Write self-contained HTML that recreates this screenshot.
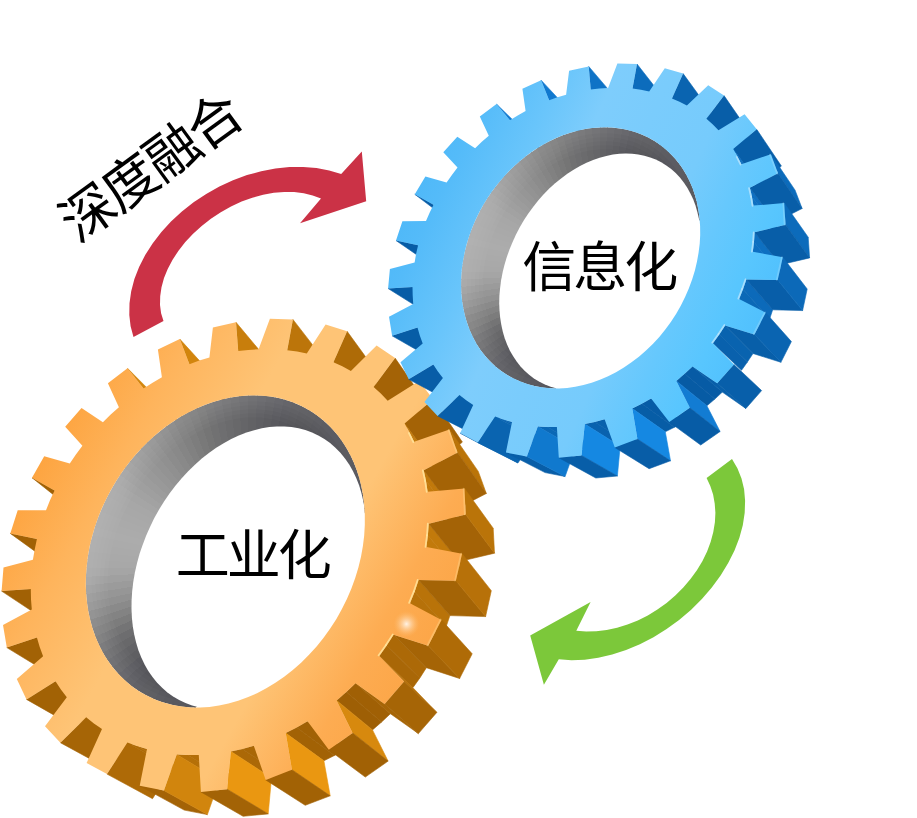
<!DOCTYPE html>
<html lang="zh"><head><meta charset="utf-8"><title>深度融合</title>
<style>html,body{margin:0;padding:0;background:#fff}body{width:917px;height:818px;overflow:hidden}svg{display:block}</style></head>
<body>
<svg width="917" height="818" viewBox="0 0 917 818">
<defs>
<linearGradient id="blueface" gradientUnits="userSpaceOnUse" x1="399.1" y1="185.3" x2="752.8" y2="349.5"><stop offset="0.000" stop-color="#4cb7f8"/><stop offset="0.103" stop-color="#54bbf9"/><stop offset="0.256" stop-color="#69c5fb"/><stop offset="0.385" stop-color="#7ecdfc"/><stop offset="0.513" stop-color="#7accfc"/><stop offset="0.667" stop-color="#76cbfc"/><stop offset="0.782" stop-color="#66c8fd"/><stop offset="0.897" stop-color="#58c6fe"/><stop offset="1.000" stop-color="#50c0fd"/></linearGradient>
<linearGradient id="orangeface" gradientUnits="userSpaceOnUse" x1="217.8" y1="122.7" x2="609.8" y2="343.6"><stop offset="0.000" stop-color="#fda23c"/><stop offset="0.178" stop-color="#feb45c"/><stop offset="0.378" stop-color="#fec476"/><stop offset="0.689" stop-color="#fec476"/><stop offset="0.867" stop-color="#fdac52"/><stop offset="1.000" stop-color="#fca546"/></linearGradient>
<radialGradient id="spec" cx="0.5" cy="0.5" r="0.5"><stop offset="0" stop-color="#fff" stop-opacity="0.85"/><stop offset="0.4" stop-color="#ffe9cf" stop-opacity="0.5"/><stop offset="1" stop-color="#ffc27c" stop-opacity="0"/></radialGradient>
</defs>
<rect width="917" height="818" fill="#fff"/>
<path d="M133.5 337.0 L130.6 326.2 L129.3 314.9 L129.5 303.2 L131.2 291.2 L134.4 279.1 L139.1 267.0 L145.2 255.1 L152.6 243.4 L161.2 232.2 L171.0 221.5 L181.9 211.5 L193.6 202.3 L206.2 193.9 L219.4 186.6 L233.0 180.3 L247.0 175.1 L261.2 171.2 L275.4 168.5 L289.5 167.0 L303.3 166.9 L316.5 168.0 L329.2 170.4 L341.2 174.0 L361.8 151.4 L366.2 201.3 L300.0 223.2 L321.0 198.5 L312.7 195.4 L303.8 193.2 L294.2 192.0 L284.2 191.9 L273.8 192.8 L263.1 194.8 L252.3 197.7 L241.6 201.6 L231.0 206.5 L220.8 212.2 L210.9 218.7 L201.7 225.9 L193.1 233.7 L185.3 242.0 L178.5 250.7 L172.6 259.7 L167.7 268.9 L164.0 278.1 L161.5 287.3 L160.2 296.3 L160.0 305.0 L161.1 313.3 L163.5 321.0Z" fill="#cb3246"/>
<path d="M732.0 459.0 L737.4 468.3 L741.5 478.4 L744.1 489.2 L745.1 500.8 L744.7 512.8 L742.8 525.2 L739.4 537.8 L734.5 550.5 L728.2 563.1 L720.6 575.5 L711.8 587.5 L701.9 599.0 L690.9 609.9 L679.1 619.9 L666.6 629.0 L653.5 637.2 L639.9 644.2 L626.1 650.0 L612.2 654.6 L598.3 657.8 L584.7 659.7 L571.5 660.2 L558.8 659.3 L543.9 684.7 L530.2 635.5 L590.6 602.1 L576.3 630.7 L586.2 631.5 L596.3 631.2 L606.7 630.0 L617.1 627.7 L627.5 624.5 L637.8 620.4 L647.8 615.4 L657.4 609.5 L666.6 602.9 L675.3 595.6 L683.3 587.6 L690.5 579.1 L696.9 570.2 L702.5 560.9 L707.1 551.4 L710.7 541.7 L713.3 531.9 L714.9 522.2 L715.4 512.7 L714.7 503.4 L713.1 494.5 L710.3 486.0 L706.6 478.1Z" fill="#7cc83a"/>
<g id="orange"><polygon points="127.5,368.3 143.5,388.6 183.2,428.1 167.5,408.4" fill="#d3860e" stroke="#d3860e" stroke-width="0.6" stroke-linejoin="round"/>
<polygon points="54.6,490.5 32.0,477.7 76.3,512.9 98.3,525.5" fill="#a16105" stroke="#a16105" stroke-width="0.6" stroke-linejoin="round"/>
<polygon points="179.8,339.1 189.4,364.3 227.3,405.3 217.8,380.8" fill="#d2850d" stroke="#d2850d" stroke-width="0.6" stroke-linejoin="round"/>
<polygon points="36.9,539.1 10.3,533.4 56.0,566.5 81.8,572.3" fill="#a16105" stroke="#a16105" stroke-width="0.6" stroke-linejoin="round"/>
<polygon points="236.0,322.3 238.2,351.1 274.4,393.2 271.9,365.3" fill="#c87e0c" stroke="#c87e0c" stroke-width="0.6" stroke-linejoin="round"/>
<polygon points="30.8,589.1 1.6,591.1 48.3,622.0 76.5,620.4" fill="#a16105" stroke="#a16105" stroke-width="0.6" stroke-linejoin="round"/>
<polygon points="292.9,319.4 287.2,350.2 321.7,393.0 326.8,363.2" fill="#bc750a" stroke="#bc750a" stroke-width="0.6" stroke-linejoin="round"/>
<polygon points="36.9,637.5 6.8,647.6 54.1,676.4 83.1,667.0" fill="#a26205" stroke="#a26205" stroke-width="0.6" stroke-linejoin="round"/>
<polygon points="347.1,331.3 333.4,362.2 366.3,405.1 379.2,375.5" fill="#ae6b07" stroke="#ae6b07" stroke-width="0.6" stroke-linejoin="round"/>
<polygon points="55.5,681.3 26.5,699.4 73.9,726.4 101.7,709.2" fill="#a26205" stroke="#a26205" stroke-width="0.6" stroke-linejoin="round"/>
<polygon points="395.1,358.1 373.6,387.0 405.2,429.5 425.6,402.0" fill="#a46306" stroke="#a46306" stroke-width="0.6" stroke-linejoin="round"/>
<polygon points="86.2,717.2 60.4,742.7 107.1,768.2 131.7,744.0" fill="#a66506" stroke="#a66506" stroke-width="0.6" stroke-linejoin="round"/>
<polygon points="433.1,399.2 404.6,423.6 435.3,465.2 462.4,442.1" fill="#a46306" stroke="#a46306" stroke-width="0.6" stroke-linejoin="round"/>
<polygon points="404.6,423.6 409.6,432.5 440.2,473.8 435.3,465.2" fill="#c0780a" stroke="#c0780a" stroke-width="0.6" stroke-linejoin="round"/>
<polygon points="127.4,742.4 107.0,774.1 152.5,798.7 171.8,768.5" fill="#ae6a07" stroke="#ae6a07" stroke-width="0.6" stroke-linejoin="round"/>
<polygon points="137.0,746.1 127.4,742.4 171.8,768.5 181.1,772.0" fill="#ae6b07" stroke="#ae6b07" stroke-width="0.6" stroke-linejoin="round"/>
<polygon points="409.6,432.5 414.1,441.8 444.6,482.8 440.2,473.8" fill="#c1790a" stroke="#c1790a" stroke-width="0.6" stroke-linejoin="round"/>
<polygon points="147.0,749.1 137.0,746.1 181.1,772.0 190.7,775.0" fill="#b06c08" stroke="#b06c08" stroke-width="0.6" stroke-linejoin="round"/>
<polygon points="449.4,429.5 457.5,452.4 486.3,493.5 478.3,471.4" fill="#ba7409" stroke="#ba7409" stroke-width="0.6" stroke-linejoin="round"/>
<polygon points="423.7,470.2 426.0,480.8 456.2,520.4 454.0,510.2" fill="#c1790b" stroke="#c1790b" stroke-width="0.6" stroke-linejoin="round"/>
<polygon points="457.5,452.4 423.7,470.2 454.0,510.2 486.3,493.5" fill="#a46306" stroke="#a46306" stroke-width="0.6" stroke-linejoin="round"/>
<polygon points="163.9,790.4 139.7,785.8 184.2,810.1 207.4,814.6" fill="#a46306" stroke="#a46306" stroke-width="0.6" stroke-linejoin="round"/>
<polygon points="187.7,755.1 176.7,754.4 219.4,780.3 230.0,781.0" fill="#b57008" stroke="#b57008" stroke-width="0.6" stroke-linejoin="round"/>
<polygon points="426.0,480.8 427.6,491.7 457.9,530.9 456.2,520.4" fill="#c2790b" stroke="#c2790b" stroke-width="0.6" stroke-linejoin="round"/>
<polygon points="176.7,754.4 163.9,790.4 207.4,814.6 219.4,780.3" fill="#d1850d" stroke="#d1850d" stroke-width="0.6" stroke-linejoin="round"/>
<polygon points="198.8,755.0 187.7,755.1 230.0,781.0 240.7,781.1" fill="#b36e08" stroke="#b36e08" stroke-width="0.6" stroke-linejoin="round"/>
<polygon points="428.7,523.7 427.9,535.3 458.5,572.7 459.2,561.6" fill="#c27a0b" stroke="#c27a0b" stroke-width="0.6" stroke-linejoin="round"/>
<polygon points="242.3,748.9 230.9,751.4 271.5,777.9 282.5,775.5" fill="#ab6807" stroke="#ab6807" stroke-width="0.6" stroke-linejoin="round"/>
<polygon points="427.9,535.3 426.4,546.9 457.2,583.8 458.5,572.7" fill="#c27a0b" stroke="#c27a0b" stroke-width="0.6" stroke-linejoin="round"/>
<polygon points="465.7,514.5 428.7,523.7 459.2,561.6 494.5,553.2" fill="#a46306" stroke="#a46306" stroke-width="0.6" stroke-linejoin="round"/>
<polygon points="464.5,488.5 465.7,514.5 494.5,553.2 493.2,528.2" fill="#ba7409" stroke="#ba7409" stroke-width="0.6" stroke-linejoin="round"/>
<polygon points="253.8,745.7 242.3,748.9 282.5,775.5 293.4,772.6" fill="#a96706" stroke="#a96706" stroke-width="0.6" stroke-linejoin="round"/>
<polygon points="230.9,751.4 227.1,789.2 268.2,813.9 271.5,777.9" fill="#ea9711" stroke="#ea9711" stroke-width="0.6" stroke-linejoin="round"/>
<polygon points="227.1,789.2 200.9,791.9 243.1,816.3 268.2,813.9" fill="#a36306" stroke="#a36306" stroke-width="0.6" stroke-linejoin="round"/>
<polygon points="418.6,580.1 414.6,591.7 446.2,626.6 449.9,615.6" fill="#b97309" stroke="#b97309" stroke-width="0.6" stroke-linejoin="round"/>
<polygon points="296.7,727.5 285.7,733.1 323.9,760.8 334.4,755.5" fill="#a26205" stroke="#a26205" stroke-width="0.6" stroke-linejoin="round"/>
<polygon points="414.6,591.7 410.0,603.2 441.9,637.6 446.2,626.6" fill="#b67109" stroke="#b67109" stroke-width="0.6" stroke-linejoin="round"/>
<polygon points="307.5,721.2 296.7,727.5 334.4,755.5 344.7,749.6" fill="#a16105" stroke="#a16105" stroke-width="0.6" stroke-linejoin="round"/>
<polygon points="455.9,580.8 418.6,580.1 449.9,615.6 485.6,616.6" fill="#a46406" stroke="#a46406" stroke-width="0.6" stroke-linejoin="round"/>
<polygon points="285.7,733.1 291.9,769.7 330.2,795.8 323.9,760.8" fill="#ea9711" stroke="#ea9711" stroke-width="0.6" stroke-linejoin="round"/>
<polygon points="393.6,634.8 386.7,645.5 419.9,677.9 426.4,667.7" fill="#ac6907" stroke="#ac6907" stroke-width="0.6" stroke-linejoin="round"/>
<polygon points="346.3,692.1 336.6,700.4 372.5,729.9 381.6,722.0" fill="#9e5f05" stroke="#9e5f05" stroke-width="0.6" stroke-linejoin="round"/>
<polygon points="386.7,645.5 379.3,655.9 412.9,687.7 419.9,677.9" fill="#a96707" stroke="#a96707" stroke-width="0.6" stroke-linejoin="round"/>
<polygon points="462.1,553.7 455.9,580.8 485.6,616.6 491.3,590.7" fill="#b77109" stroke="#b77109" stroke-width="0.6" stroke-linejoin="round"/>
<polygon points="355.5,683.3 346.3,692.1 381.6,722.0 390.4,713.7" fill="#a06005" stroke="#a06005" stroke-width="0.6" stroke-linejoin="round"/>
<polygon points="291.9,769.7 265.7,779.9 305.2,805.3 330.2,795.8" fill="#a26205" stroke="#a26205" stroke-width="0.6" stroke-linejoin="round"/>
<polygon points="428.2,645.8 393.6,634.8 426.4,667.7 459.6,678.5" fill="#a56406" stroke="#a56406" stroke-width="0.6" stroke-linejoin="round"/>
<polygon points="336.6,700.4 352.6,732.9 388.1,761.1 372.5,729.9" fill="#d7890e" stroke="#d7890e" stroke-width="0.6" stroke-linejoin="round"/>
<polygon points="379.3,655.9 404.0,681.5 436.8,712.4 412.9,687.7" fill="#b77109" stroke="#b77109" stroke-width="0.6" stroke-linejoin="round"/>
<polygon points="384.6,703.9 355.5,683.3 390.4,713.7 418.4,733.6" fill="#a66506" stroke="#a66506" stroke-width="0.6" stroke-linejoin="round"/>
<polygon points="441.5,619.9 428.2,645.8 459.6,678.5 472.2,653.8" fill="#af6b07" stroke="#af6b07" stroke-width="0.6" stroke-linejoin="round"/>
<polygon points="352.6,732.9 328.8,749.8 365.3,777.1 388.1,761.1" fill="#a16105" stroke="#a16105" stroke-width="0.6" stroke-linejoin="round"/>
<polygon points="404.0,681.5 384.6,703.9 418.4,733.6 436.8,712.4" fill="#a66506" stroke="#a66506" stroke-width="0.6" stroke-linejoin="round"/>
<clipPath id="orangeclip"><path d="M362.9 546.1 L361.0 556.7 L358.4 567.4 L355.2 578.0 L351.4 588.5 L346.9 598.9 L341.9 609.0 L336.4 618.9 L330.2 628.5 L323.6 637.7 L316.6 646.5 L309.0 654.8 L301.1 662.7 L292.8 670.0 L284.2 676.7 L275.4 682.8 L266.3 688.3 L257.0 693.2 L247.6 697.3 L238.1 700.8 L228.5 703.6 L219.0 705.6 L209.5 706.9 L200.1 707.5 L190.9 707.4 L181.8 706.6 L173.0 705.0 L164.4 702.8 L156.2 699.9 L148.2 696.3 L140.7 692.2 L133.5 687.4 L126.8 682.0 L120.5 676.1 L114.7 669.7 L109.4 662.7 L104.6 655.4 L100.3 647.6 L96.6 639.5 L93.4 631.0 L90.8 622.2 L88.7 613.2 L87.2 603.9 L86.2 594.5 L85.8 584.9 L86.0 575.2 L86.8 565.4 L88.0 555.6 L89.8 545.8 L92.2 536.1 L95.0 526.4 L98.4 516.8 L102.2 507.4 L106.6 498.2 L111.3 489.2 L116.5 480.5 L122.1 472.0 L128.2 463.8 L134.5 456.0 L141.3 448.5 L148.3 441.5 L155.7 434.8 L163.3 428.6 L171.1 422.9 L179.2 417.6 L187.5 412.9 L195.9 408.7 L204.5 405.0 L213.1 401.9 L221.8 399.4 L230.6 397.5 L239.3 396.2 L248.1 395.4 L256.7 395.4 L265.3 395.9 L273.7 397.1 L281.9 398.8 L290.0 401.3 L297.8 404.3 L305.3 408.0 L312.5 412.3 L319.4 417.2 L325.9 422.6 L332.0 428.7 L337.7 435.3 L342.9 442.4 L347.6 450.0 L351.8 458.1 L355.4 466.6 L358.5 475.5 L361.0 484.8 L362.9 494.5 L364.2 504.4 L364.8 514.6 L364.8 524.9 L364.2 535.5Z"/></clipPath>
<clipPath id="orangewc"><path d="M195.8 707.6 L190.9 707.4 L186.0 707.1 L181.2 706.5 L176.5 705.7 L171.8 704.8 L167.3 703.6 L162.8 702.3 L158.3 700.7 L154.0 699.0 L149.8 697.1 L145.7 695.0 L141.7 692.8 L137.8 690.3 L134.0 687.7 L130.3 684.9 L126.8 682.0 L123.4 678.9 L120.1 675.7 L117.0 672.3 L114.0 668.8 L111.1 665.1 L108.4 661.3 L105.8 657.4 L103.4 653.4 L101.1 649.2 L99.0 644.9 L97.0 640.6 L95.2 636.1 L93.6 631.6 L92.1 626.9 L90.8 622.2 L89.6 617.4 L88.6 612.6 L87.7 607.6 L87.0 602.7 L86.5 597.6 L86.1 592.5 L85.9 587.4 L85.8 582.3 L85.9 577.1 L86.2 571.9 L86.6 566.7 L87.2 561.5 L87.9 556.2 L88.8 551.0 L89.8 545.8 L91.0 540.6 L92.4 535.4 L93.8 530.2 L95.5 525.1 L97.2 520.0 L99.1 514.9 L101.2 509.9 L103.4 505.0 L105.7 500.0 L108.1 495.2 L110.7 490.4 L113.4 485.7 L116.2 481.0 L119.1 476.5 L122.1 472.0 L125.3 467.6 L128.6 463.3 L131.9 459.1 L135.4 455.0 L139.0 451.0 L142.6 447.1 L146.4 443.3 L150.2 439.6 L154.2 436.1 L158.2 432.7 L162.2 429.4 L166.4 426.3 L170.6 423.2 L174.9 420.4 L179.2 417.6 L183.6 415.0 L188.0 412.6 L192.5 410.3 L197.0 408.2 L201.6 406.2 L206.2 404.4 L210.8 402.7 L215.4 401.2 L220.1 399.9 L224.8 398.7 L229.4 397.7 L234.1 396.9 L238.8 396.2 L243.4 395.7 L248.1 395.4 L252.7 395.3 L257.3 395.4 L261.9 395.6 L266.4 396.0 L270.9 396.6 L275.3 397.4 L279.7 398.3 L284.1 399.4 L288.4 400.7 L292.6 402.2 L296.7 403.9 L300.8 405.7 L304.8 407.7 L308.7 409.9 L312.5 412.3 L316.2 414.8 L319.8 417.5 L323.3 420.4 L326.7 423.4 L330.0 426.6 L333.2 429.9 L336.2 433.4 L339.1 437.1 L341.9 440.9 L344.5 444.8 L347.0 448.9 L349.3 453.2 L351.5 457.5 L353.5 462.0 L355.4 466.6 L357.1 471.3 L358.7 476.1 L360.1 481.1 L361.3 486.1 L362.3 491.2 L363.2 496.4 L363.9 501.7 L364.4 507.1 L364.7 512.5Z"/></clipPath>
<g clip-path="url(#orangewc)"><polygon points="248.7,567.8 249.6,807.0 235.4,806.6" fill="#3a3a44" shape-rendering="crispEdges"/><polygon points="248.7,567.8 237.1,806.7 222.9,805.6" fill="#3b3b44" shape-rendering="crispEdges"/><polygon points="248.7,567.8 224.6,805.7 210.5,803.9" fill="#3c3c45" shape-rendering="crispEdges"/><polygon points="248.7,567.8 212.1,804.2 198.2,801.6" fill="#3d3d46" shape-rendering="crispEdges"/><polygon points="248.7,567.8 199.8,801.9 186.0,798.6" fill="#3e3e47" shape-rendering="crispEdges"/><polygon points="248.7,567.8 187.6,799.0 174.0,795.0" fill="#3f3f48" shape-rendering="crispEdges"/><polygon points="248.7,567.8 175.6,795.5 162.2,790.8" fill="#404048" shape-rendering="crispEdges"/><polygon points="248.7,567.8 163.8,791.4 150.7,785.9" fill="#42424a" shape-rendering="crispEdges"/><polygon points="248.7,567.8 152.2,786.6 139.4,780.5" fill="#44444b" shape-rendering="crispEdges"/><polygon points="248.7,567.8 140.9,781.3 128.4,774.5" fill="#45454d" shape-rendering="crispEdges"/><polygon points="248.7,567.8 129.9,775.3 117.8,767.9" fill="#47474f" shape-rendering="crispEdges"/><polygon points="248.7,567.8 119.2,768.8 107.5,760.8" fill="#4a4a51" shape-rendering="crispEdges"/><polygon points="248.7,567.8 108.8,761.8 97.6,753.1" fill="#4d4d53" shape-rendering="crispEdges"/><polygon points="248.7,567.8 98.9,754.2 88.1,745.0" fill="#505056" shape-rendering="crispEdges"/><polygon points="248.7,567.8 89.3,746.1 79.0,736.3" fill="#525258" shape-rendering="crispEdges"/><polygon points="248.7,567.8 80.2,737.5 70.4,727.2" fill="#56565b" shape-rendering="crispEdges"/><polygon points="248.7,567.8 71.5,728.4 62.3,717.7" fill="#5a5a5f" shape-rendering="crispEdges"/><polygon points="248.7,567.8 63.4,718.9 54.7,707.7" fill="#5f5f62" shape-rendering="crispEdges"/><polygon points="248.7,567.8 55.7,709.0 47.7,697.3" fill="#636366" shape-rendering="crispEdges"/><polygon points="248.7,567.8 48.6,698.7 41.2,686.6" fill="#68686a" shape-rendering="crispEdges"/><polygon points="248.7,567.8 42.0,688.1 35.2,675.6" fill="#6d6d6f" shape-rendering="crispEdges"/><polygon points="248.7,567.8 36.0,677.1 29.9,664.3" fill="#747475" shape-rendering="crispEdges"/><polygon points="248.7,567.8 30.6,665.8 25.1,652.7" fill="#7c7c7c" shape-rendering="crispEdges"/><polygon points="248.7,567.8 25.7,654.3 21.0,640.9" fill="#838383" shape-rendering="crispEdges"/><polygon points="248.7,567.8 21.5,642.5 17.5,628.9" fill="#8a8a8a" shape-rendering="crispEdges"/><polygon points="248.7,567.8 17.9,630.5 14.6,616.7" fill="#919191" shape-rendering="crispEdges"/><polygon points="248.7,567.8 14.9,618.3 12.3,604.4" fill="#969696" shape-rendering="crispEdges"/><polygon points="248.7,567.8 12.6,606.0 10.8,591.9" fill="#9b9b9b" shape-rendering="crispEdges"/><polygon points="248.7,567.8 10.9,593.6 9.8,579.4" fill="#a0a0a0" shape-rendering="crispEdges"/><polygon points="248.7,567.8 9.9,581.1 9.5,566.9" fill="#a5a5a5" shape-rendering="crispEdges"/><polygon points="248.7,567.8 9.5,568.6 9.9,554.4" fill="#a8a8a8" shape-rendering="crispEdges"/><polygon points="248.7,567.8 9.8,556.1 10.9,541.9" fill="#a9a9a9" shape-rendering="crispEdges"/><polygon points="248.7,567.8 10.8,543.6 12.6,529.5" fill="#aaaaaa" shape-rendering="crispEdges"/><polygon points="248.7,567.8 12.3,531.2 14.9,517.2" fill="#ababab" shape-rendering="crispEdges"/><polygon points="248.7,567.8 14.6,518.8 17.9,505.0" fill="#acacac" shape-rendering="crispEdges"/><polygon points="248.7,567.8 17.5,506.7 21.5,493.0" fill="#ababab" shape-rendering="crispEdges"/><polygon points="248.7,567.8 21.0,494.6 25.7,481.3" fill="#aaaaaa" shape-rendering="crispEdges"/><polygon points="248.7,567.8 25.1,482.8 30.6,469.7" fill="#a9a9a9" shape-rendering="crispEdges"/><polygon points="248.7,567.8 29.9,471.2 36.0,458.4" fill="#a8a8a8" shape-rendering="crispEdges"/><polygon points="248.7,567.8 35.2,459.9 42.0,447.4" fill="#a7a7a7" shape-rendering="crispEdges"/><polygon points="248.7,567.8 41.2,448.9 48.6,436.8" fill="#a5a5a5" shape-rendering="crispEdges"/><polygon points="248.7,567.8 47.7,438.2 55.7,426.5" fill="#a2a2a2" shape-rendering="crispEdges"/><polygon points="248.7,567.8 54.7,427.8 63.4,416.6" fill="#9f9f9f" shape-rendering="crispEdges"/><polygon points="248.7,567.8 62.3,417.9 71.5,407.1" fill="#9c9c9c" shape-rendering="crispEdges"/><polygon points="248.7,567.8 70.4,408.3 80.2,398.0" fill="#999999" shape-rendering="crispEdges"/><polygon points="248.7,567.8 79.0,399.2 89.3,389.4" fill="#969696" shape-rendering="crispEdges"/><polygon points="248.7,567.8 88.1,390.6 98.9,381.3" fill="#939393" shape-rendering="crispEdges"/><polygon points="248.7,567.8 97.6,382.4 108.8,373.7" fill="#909090" shape-rendering="crispEdges"/><polygon points="248.7,567.8 107.5,374.7 119.2,366.7" fill="#8c8c8c" shape-rendering="crispEdges"/><polygon points="248.7,567.8 117.8,367.6 129.9,360.2" fill="#898989" shape-rendering="crispEdges"/><polygon points="248.7,567.8 128.4,361.0 140.9,354.2" fill="#858585" shape-rendering="crispEdges"/><polygon points="248.7,567.8 139.4,355.0 152.2,348.9" fill="#818181" shape-rendering="crispEdges"/><polygon points="248.7,567.8 150.7,349.6 163.8,344.1" fill="#7d7d7d" shape-rendering="crispEdges"/><polygon points="248.7,567.8 162.2,344.7 175.6,340.0" fill="#797979" shape-rendering="crispEdges"/><polygon points="248.7,567.8 174.0,340.5 187.6,336.5" fill="#757575" shape-rendering="crispEdges"/><polygon points="248.7,567.8 186.0,336.9 199.8,333.6" fill="#717172" shape-rendering="crispEdges"/><polygon points="248.7,567.8 198.2,334.0 212.1,331.4" fill="#6e6e70" shape-rendering="crispEdges"/><polygon points="248.7,567.8 210.5,331.6 224.6,329.8" fill="#6b6b6d" shape-rendering="crispEdges"/><polygon points="248.7,567.8 222.9,329.9 237.1,328.8" fill="#68686a" shape-rendering="crispEdges"/><polygon points="248.7,567.8 235.4,328.9 249.6,328.6" fill="#656568" shape-rendering="crispEdges"/><polygon points="248.7,567.8 247.9,328.6 262.1,328.9" fill="#626265" shape-rendering="crispEdges"/><polygon points="248.7,567.8 260.4,328.8 274.6,329.9" fill="#5f5f63" shape-rendering="crispEdges"/><polygon points="248.7,567.8 272.9,329.8 287.0,331.6" fill="#5c5c60" shape-rendering="crispEdges"/><polygon points="248.7,567.8 285.3,331.4 299.3,334.0" fill="#59595e" shape-rendering="crispEdges"/><polygon points="248.7,567.8 297.7,333.6 311.5,336.9" fill="#56565b" shape-rendering="crispEdges"/><polygon points="248.7,567.8 309.8,336.5 323.5,340.5" fill="#545459" shape-rendering="crispEdges"/><polygon points="248.7,567.8 321.9,340.0 335.2,344.7" fill="#525257" shape-rendering="crispEdges"/><polygon points="248.7,567.8 333.7,344.1 346.8,349.6" fill="#505056" shape-rendering="crispEdges"/><polygon points="248.7,567.8 345.3,348.9 358.1,355.0" fill="#4e4e54" shape-rendering="crispEdges"/><polygon points="248.7,567.8 356.6,354.2 369.1,361.0" fill="#4b4b52" shape-rendering="crispEdges"/><polygon points="248.7,567.8 367.6,360.2 379.7,367.6" fill="#4a4a51" shape-rendering="crispEdges"/><polygon points="248.7,567.8 378.3,366.7 390.0,374.7" fill="#4a4a51" shape-rendering="crispEdges"/><polygon points="248.7,567.8 388.7,373.7 399.9,382.4" fill="#494950" shape-rendering="crispEdges"/><polygon points="248.7,567.8 398.6,381.3 409.4,390.6" fill="#494950" shape-rendering="crispEdges"/><polygon points="248.7,567.8 408.2,389.4 418.5,399.2" fill="#494950" shape-rendering="crispEdges"/><polygon points="248.7,567.8 417.3,398.0 427.1,408.3" fill="#48484f" shape-rendering="crispEdges"/><polygon points="248.7,567.8 426.0,407.1 435.2,417.9" fill="#48484f" shape-rendering="crispEdges"/><polygon points="248.7,567.8 434.1,416.6 442.8,427.8" fill="#47474f" shape-rendering="crispEdges"/><polygon points="248.7,567.8 441.8,426.5 449.8,438.2" fill="#47474e" shape-rendering="crispEdges"/><polygon points="248.7,567.8 448.9,436.8 456.3,448.9" fill="#46464e" shape-rendering="crispEdges"/><polygon points="248.7,567.8 455.5,447.4 462.3,459.9" fill="#46464e" shape-rendering="crispEdges"/><polygon points="248.7,567.8 461.5,458.4 467.6,471.2" fill="#46464e" shape-rendering="crispEdges"/><polygon points="248.7,567.8 466.9,469.7 472.4,482.8" fill="#46464e" shape-rendering="crispEdges"/><polygon points="248.7,567.8 471.8,481.3 476.5,494.6" fill="#46464e" shape-rendering="crispEdges"/><polygon points="248.7,567.8 476.0,493.0 480.0,506.7" fill="#46464e" shape-rendering="crispEdges"/><polygon points="248.7,567.8 479.6,505.0 482.9,518.8" fill="#46464e" shape-rendering="crispEdges"/><polygon points="248.7,567.8 482.6,517.2 485.1,531.2" fill="#46464e" shape-rendering="crispEdges"/><polygon points="248.7,567.8 484.9,529.5 486.7,543.6" fill="#46464e" shape-rendering="crispEdges"/><polygon points="248.7,567.8 486.6,541.9 487.7,556.1" fill="#46464e" shape-rendering="crispEdges"/><polygon points="248.7,567.8 487.6,554.4 488.0,568.6" fill="#46464e" shape-rendering="crispEdges"/><polygon points="248.7,567.8 488.0,566.9 487.6,581.1" fill="#46464e" shape-rendering="crispEdges"/><polygon points="248.7,567.8 487.7,579.4 486.6,593.6" fill="#46464d" shape-rendering="crispEdges"/><polygon points="248.7,567.8 486.7,591.9 484.9,606.0" fill="#46464d" shape-rendering="crispEdges"/><polygon points="248.7,567.8 485.1,604.4 482.6,618.3" fill="#46464d" shape-rendering="crispEdges"/><polygon points="248.7,567.8 482.9,616.7 479.6,630.5" fill="#45454d" shape-rendering="crispEdges"/><polygon points="248.7,567.8 480.0,628.9 476.0,642.5" fill="#45454d" shape-rendering="crispEdges"/><polygon points="248.7,567.8 476.5,640.9 471.8,654.3" fill="#45454d" shape-rendering="crispEdges"/><polygon points="248.7,567.8 472.4,652.7 466.9,665.8" fill="#45454c" shape-rendering="crispEdges"/><polygon points="248.7,567.8 467.6,664.3 461.5,677.1" fill="#45454c" shape-rendering="crispEdges"/><polygon points="248.7,567.8 462.3,675.6 455.5,688.1" fill="#44444c" shape-rendering="crispEdges"/><polygon points="248.7,567.8 456.3,686.6 448.9,698.7" fill="#44444c" shape-rendering="crispEdges"/><polygon points="248.7,567.8 449.8,697.3 441.8,709.0" fill="#44444b" shape-rendering="crispEdges"/><polygon points="248.7,567.8 442.8,707.7 434.1,718.9" fill="#43434b" shape-rendering="crispEdges"/><polygon points="248.7,567.8 435.2,717.7 426.0,728.4" fill="#43434b" shape-rendering="crispEdges"/><polygon points="248.7,567.8 427.1,727.2 417.3,737.5" fill="#42424a" shape-rendering="crispEdges"/><polygon points="248.7,567.8 418.5,736.3 408.2,746.1" fill="#42424a" shape-rendering="crispEdges"/><polygon points="248.7,567.8 409.4,745.0 398.6,754.2" fill="#42424a" shape-rendering="crispEdges"/><polygon points="248.7,567.8 399.9,753.1 388.7,761.8" fill="#414149" shape-rendering="crispEdges"/><polygon points="248.7,567.8 390.0,760.8 378.3,768.8" fill="#414149" shape-rendering="crispEdges"/><polygon points="248.7,567.8 379.7,767.9 367.6,775.3" fill="#404049" shape-rendering="crispEdges"/><polygon points="248.7,567.8 369.1,774.5 356.6,781.3" fill="#404048" shape-rendering="crispEdges"/><polygon points="248.7,567.8 358.1,780.5 345.3,786.6" fill="#3f3f48" shape-rendering="crispEdges"/><polygon points="248.7,567.8 346.8,785.9 333.7,791.4" fill="#3f3f47" shape-rendering="crispEdges"/><polygon points="248.7,567.8 335.2,790.8 321.9,795.5" fill="#3e3e47" shape-rendering="crispEdges"/><polygon points="248.7,567.8 323.5,795.0 309.8,799.0" fill="#3d3d46" shape-rendering="crispEdges"/><polygon points="248.7,567.8 311.5,798.6 297.7,801.9" fill="#3d3d46" shape-rendering="crispEdges"/><polygon points="248.7,567.8 299.3,801.6 285.3,804.2" fill="#3c3c45" shape-rendering="crispEdges"/><polygon points="248.7,567.8 287.0,803.9 272.9,805.7" fill="#3b3b45" shape-rendering="crispEdges"/><polygon points="248.7,567.8 274.6,805.6 260.4,806.7" fill="#3b3b44" shape-rendering="crispEdges"/><polygon points="248.7,567.8 262.1,806.6 247.9,807.0" fill="#3a3a43" shape-rendering="crispEdges"/><path d="M362.9 546.1 L361.0 556.7 L358.4 567.4 L355.2 578.0 L351.4 588.5 L346.9 598.9 L341.9 609.0 L336.4 618.9 L330.2 628.5 L323.6 637.7 L316.6 646.5 L309.0 654.8 L301.1 662.7 L292.8 670.0 L284.2 676.7 L275.4 682.8 L266.3 688.3 L257.0 693.2 L247.6 697.3 L238.1 700.8 L228.5 703.6 L219.0 705.6 L209.5 706.9 L200.1 707.5 L190.9 707.4 L181.8 706.6 L173.0 705.0 L164.4 702.8 L156.2 699.9 L148.2 696.3 L140.7 692.2 L133.5 687.4 L126.8 682.0 L120.5 676.1 L114.7 669.7 L109.4 662.7 L104.6 655.4 L100.3 647.6 L96.6 639.5 L93.4 631.0 L90.8 622.2 L88.7 613.2 L87.2 603.9 L86.2 594.5 L85.8 584.9 L86.0 575.2 L86.8 565.4 L88.0 555.6 L89.8 545.8 L92.2 536.1 L95.0 526.4 L98.4 516.8 L102.2 507.4 L106.6 498.2 L111.3 489.2 L116.5 480.5 L122.1 472.0 L128.2 463.8 L134.5 456.0 L141.3 448.5 L148.3 441.5 L155.7 434.8 L163.3 428.6 L171.1 422.9 L179.2 417.6 L187.5 412.9 L195.9 408.7 L204.5 405.0 L213.1 401.9 L221.8 399.4 L230.6 397.5 L239.3 396.2 L248.1 395.4 L256.7 395.4 L265.3 395.9 L273.7 397.1 L281.9 398.8 L290.0 401.3 L297.8 404.3 L305.3 408.0 L312.5 412.3 L319.4 417.2 L325.9 422.6 L332.0 428.7 L337.7 435.3 L342.9 442.4 L347.6 450.0 L351.8 458.1 L355.4 466.6 L358.5 475.5 L361.0 484.8 L362.9 494.5 L364.2 504.4 L364.8 514.6 L364.8 524.9 L364.2 535.5Z" fill="none" stroke="#fff" stroke-opacity="0.025" stroke-width="44"/><path d="M362.9 546.1 L361.0 556.7 L358.4 567.4 L355.2 578.0 L351.4 588.5 L346.9 598.9 L341.9 609.0 L336.4 618.9 L330.2 628.5 L323.6 637.7 L316.6 646.5 L309.0 654.8 L301.1 662.7 L292.8 670.0 L284.2 676.7 L275.4 682.8 L266.3 688.3 L257.0 693.2 L247.6 697.3 L238.1 700.8 L228.5 703.6 L219.0 705.6 L209.5 706.9 L200.1 707.5 L190.9 707.4 L181.8 706.6 L173.0 705.0 L164.4 702.8 L156.2 699.9 L148.2 696.3 L140.7 692.2 L133.5 687.4 L126.8 682.0 L120.5 676.1 L114.7 669.7 L109.4 662.7 L104.6 655.4 L100.3 647.6 L96.6 639.5 L93.4 631.0 L90.8 622.2 L88.7 613.2 L87.2 603.9 L86.2 594.5 L85.8 584.9 L86.0 575.2 L86.8 565.4 L88.0 555.6 L89.8 545.8 L92.2 536.1 L95.0 526.4 L98.4 516.8 L102.2 507.4 L106.6 498.2 L111.3 489.2 L116.5 480.5 L122.1 472.0 L128.2 463.8 L134.5 456.0 L141.3 448.5 L148.3 441.5 L155.7 434.8 L163.3 428.6 L171.1 422.9 L179.2 417.6 L187.5 412.9 L195.9 408.7 L204.5 405.0 L213.1 401.9 L221.8 399.4 L230.6 397.5 L239.3 396.2 L248.1 395.4 L256.7 395.4 L265.3 395.9 L273.7 397.1 L281.9 398.8 L290.0 401.3 L297.8 404.3 L305.3 408.0 L312.5 412.3 L319.4 417.2 L325.9 422.6 L332.0 428.7 L337.7 435.3 L342.9 442.4 L347.6 450.0 L351.8 458.1 L355.4 466.6 L358.5 475.5 L361.0 484.8 L362.9 494.5 L364.2 504.4 L364.8 514.6 L364.8 524.9 L364.2 535.5Z" fill="none" stroke="#fff" stroke-opacity="0.025" stroke-width="36"/><path d="M362.9 546.1 L361.0 556.7 L358.4 567.4 L355.2 578.0 L351.4 588.5 L346.9 598.9 L341.9 609.0 L336.4 618.9 L330.2 628.5 L323.6 637.7 L316.6 646.5 L309.0 654.8 L301.1 662.7 L292.8 670.0 L284.2 676.7 L275.4 682.8 L266.3 688.3 L257.0 693.2 L247.6 697.3 L238.1 700.8 L228.5 703.6 L219.0 705.6 L209.5 706.9 L200.1 707.5 L190.9 707.4 L181.8 706.6 L173.0 705.0 L164.4 702.8 L156.2 699.9 L148.2 696.3 L140.7 692.2 L133.5 687.4 L126.8 682.0 L120.5 676.1 L114.7 669.7 L109.4 662.7 L104.6 655.4 L100.3 647.6 L96.6 639.5 L93.4 631.0 L90.8 622.2 L88.7 613.2 L87.2 603.9 L86.2 594.5 L85.8 584.9 L86.0 575.2 L86.8 565.4 L88.0 555.6 L89.8 545.8 L92.2 536.1 L95.0 526.4 L98.4 516.8 L102.2 507.4 L106.6 498.2 L111.3 489.2 L116.5 480.5 L122.1 472.0 L128.2 463.8 L134.5 456.0 L141.3 448.5 L148.3 441.5 L155.7 434.8 L163.3 428.6 L171.1 422.9 L179.2 417.6 L187.5 412.9 L195.9 408.7 L204.5 405.0 L213.1 401.9 L221.8 399.4 L230.6 397.5 L239.3 396.2 L248.1 395.4 L256.7 395.4 L265.3 395.9 L273.7 397.1 L281.9 398.8 L290.0 401.3 L297.8 404.3 L305.3 408.0 L312.5 412.3 L319.4 417.2 L325.9 422.6 L332.0 428.7 L337.7 435.3 L342.9 442.4 L347.6 450.0 L351.8 458.1 L355.4 466.6 L358.5 475.5 L361.0 484.8 L362.9 494.5 L364.2 504.4 L364.8 514.6 L364.8 524.9 L364.2 535.5Z" fill="none" stroke="#fff" stroke-opacity="0.025" stroke-width="28"/><path d="M362.9 546.1 L361.0 556.7 L358.4 567.4 L355.2 578.0 L351.4 588.5 L346.9 598.9 L341.9 609.0 L336.4 618.9 L330.2 628.5 L323.6 637.7 L316.6 646.5 L309.0 654.8 L301.1 662.7 L292.8 670.0 L284.2 676.7 L275.4 682.8 L266.3 688.3 L257.0 693.2 L247.6 697.3 L238.1 700.8 L228.5 703.6 L219.0 705.6 L209.5 706.9 L200.1 707.5 L190.9 707.4 L181.8 706.6 L173.0 705.0 L164.4 702.8 L156.2 699.9 L148.2 696.3 L140.7 692.2 L133.5 687.4 L126.8 682.0 L120.5 676.1 L114.7 669.7 L109.4 662.7 L104.6 655.4 L100.3 647.6 L96.6 639.5 L93.4 631.0 L90.8 622.2 L88.7 613.2 L87.2 603.9 L86.2 594.5 L85.8 584.9 L86.0 575.2 L86.8 565.4 L88.0 555.6 L89.8 545.8 L92.2 536.1 L95.0 526.4 L98.4 516.8 L102.2 507.4 L106.6 498.2 L111.3 489.2 L116.5 480.5 L122.1 472.0 L128.2 463.8 L134.5 456.0 L141.3 448.5 L148.3 441.5 L155.7 434.8 L163.3 428.6 L171.1 422.9 L179.2 417.6 L187.5 412.9 L195.9 408.7 L204.5 405.0 L213.1 401.9 L221.8 399.4 L230.6 397.5 L239.3 396.2 L248.1 395.4 L256.7 395.4 L265.3 395.9 L273.7 397.1 L281.9 398.8 L290.0 401.3 L297.8 404.3 L305.3 408.0 L312.5 412.3 L319.4 417.2 L325.9 422.6 L332.0 428.7 L337.7 435.3 L342.9 442.4 L347.6 450.0 L351.8 458.1 L355.4 466.6 L358.5 475.5 L361.0 484.8 L362.9 494.5 L364.2 504.4 L364.8 514.6 L364.8 524.9 L364.2 535.5Z" fill="none" stroke="#fff" stroke-opacity="0.025" stroke-width="20"/><path d="M362.9 546.1 L361.0 556.7 L358.4 567.4 L355.2 578.0 L351.4 588.5 L346.9 598.9 L341.9 609.0 L336.4 618.9 L330.2 628.5 L323.6 637.7 L316.6 646.5 L309.0 654.8 L301.1 662.7 L292.8 670.0 L284.2 676.7 L275.4 682.8 L266.3 688.3 L257.0 693.2 L247.6 697.3 L238.1 700.8 L228.5 703.6 L219.0 705.6 L209.5 706.9 L200.1 707.5 L190.9 707.4 L181.8 706.6 L173.0 705.0 L164.4 702.8 L156.2 699.9 L148.2 696.3 L140.7 692.2 L133.5 687.4 L126.8 682.0 L120.5 676.1 L114.7 669.7 L109.4 662.7 L104.6 655.4 L100.3 647.6 L96.6 639.5 L93.4 631.0 L90.8 622.2 L88.7 613.2 L87.2 603.9 L86.2 594.5 L85.8 584.9 L86.0 575.2 L86.8 565.4 L88.0 555.6 L89.8 545.8 L92.2 536.1 L95.0 526.4 L98.4 516.8 L102.2 507.4 L106.6 498.2 L111.3 489.2 L116.5 480.5 L122.1 472.0 L128.2 463.8 L134.5 456.0 L141.3 448.5 L148.3 441.5 L155.7 434.8 L163.3 428.6 L171.1 422.9 L179.2 417.6 L187.5 412.9 L195.9 408.7 L204.5 405.0 L213.1 401.9 L221.8 399.4 L230.6 397.5 L239.3 396.2 L248.1 395.4 L256.7 395.4 L265.3 395.9 L273.7 397.1 L281.9 398.8 L290.0 401.3 L297.8 404.3 L305.3 408.0 L312.5 412.3 L319.4 417.2 L325.9 422.6 L332.0 428.7 L337.7 435.3 L342.9 442.4 L347.6 450.0 L351.8 458.1 L355.4 466.6 L358.5 475.5 L361.0 484.8 L362.9 494.5 L364.2 504.4 L364.8 514.6 L364.8 524.9 L364.2 535.5Z" fill="none" stroke="#fff" stroke-opacity="0.025" stroke-width="12"/></g>
<path d="M318.3 435.4 L324.4 439.0 L330.1 443.1 L335.4 447.7 L340.4 452.8 L345.0 458.4 L349.2 464.5 L352.9 471.1 L356.2 478.0 L359.1 485.3 L361.4 493.0 L363.3 501.0 L364.7 509.3 L365.6 517.9 L366.0 526.6 L365.9 535.5 L365.3 544.6 L364.2 553.8 L362.6 563.0 L360.5 572.3 L357.9 581.5 L354.9 590.7 L351.4 599.7 L347.5 608.7 L343.1 617.4 L338.4 626.0 L333.3 634.3 L327.8 642.3 L321.9 650.0 L315.8 657.3 L309.3 664.3 L302.6 670.8 L295.7 676.9 L288.6 682.6 L281.3 687.7 L273.8 692.3 L266.3 696.4 L258.7 700.0 L251.0 703.0 L243.3 705.4 L235.7 707.2 L228.1 708.4 L220.6 709.0 L213.2 709.0 L205.9 708.4 L198.9 707.2 L192.1 705.4 L185.5 703.0 L179.1 700.1 L173.1 696.5 L167.4 692.5 L162.1 687.8 L157.1 682.7 L152.5 677.1 L148.3 671.0 L144.6 664.5 L141.3 657.5 L138.4 650.2 L136.1 642.5 L134.2 634.5 L132.8 626.2 L131.9 617.7 L131.5 608.9 L131.6 600.0 L132.2 590.9 L133.3 581.7 L134.9 572.5 L137.0 563.3 L139.5 554.0 L142.6 544.9 L146.1 535.8 L150.0 526.9 L154.3 518.1 L159.1 509.6 L164.2 501.3 L169.7 493.2 L175.6 485.5 L181.7 478.2 L188.2 471.2 L194.9 464.7 L201.8 458.6 L208.9 453.0 L216.2 447.8 L223.7 443.2 L231.2 439.1 L238.8 435.5 L246.5 432.6 L254.2 430.2 L261.8 428.3 L269.4 427.1 L276.9 426.5 L284.3 426.5 L291.5 427.1 L298.6 428.3 L305.4 430.1 L312.0 432.5Z" fill="#fff" clip-path="url(#orangeclip)"/>
<path d="M426.4 546.9 L462.1 553.7 L455.9 580.8 L418.6 580.1 L414.6 591.7 L410.0 603.2 L441.5 619.9 L428.2 645.8 L393.6 634.8 L386.7 645.5 L379.3 655.9 L404.0 681.5 L384.6 703.9 L355.5 683.3 L346.3 692.1 L336.6 700.4 L352.6 732.9 L328.8 749.8 L307.5 721.2 L296.7 727.5 L285.7 733.1 L291.9 769.7 L265.7 779.9 L253.8 745.7 L242.3 748.9 L230.9 751.4 L227.1 789.2 L200.9 791.9 L198.8 755.0 L187.7 755.1 L176.7 754.4 L163.9 790.4 L139.7 785.8 L147.0 749.1 L137.0 746.1 L127.4 742.4 L107.0 774.1 L86.6 763.0 L102.0 729.1 L93.9 723.4 L86.2 717.2 L60.4 742.7 L45.0 726.3 L66.8 697.3 L60.9 689.4 L55.5 681.3 L26.5 699.4 L16.8 679.1 L43.1 656.3 L39.7 647.0 L36.9 637.5 L6.8 647.6 L3.0 625.0 L31.8 609.5 L31.0 599.3 L30.8 589.1 L1.6 591.1 L3.5 567.6 L32.9 559.8 L34.7 549.4 L36.9 539.1 L10.3 533.4 L17.7 510.3 L46.0 510.3 L50.0 500.3 L54.6 490.5 L32.0 477.7 L44.2 456.3 L69.8 463.6 L75.9 454.5 L82.4 445.7 L65.2 426.8 L81.5 408.1 L102.9 422.3 L110.7 414.6 L118.9 407.3 L107.9 383.3 L127.5 368.3 L143.5 388.6 L152.6 382.7 L161.9 377.3 L157.9 349.6 L179.8 339.1 L189.4 364.3 L199.3 360.6 L209.4 357.5 L212.9 327.5 L236.0 322.3 L238.2 351.1 L248.4 349.9 L258.6 349.2 L269.9 318.8 L292.9 319.4 L287.2 350.2 L297.1 351.6 L306.8 353.6 L325.6 324.6 L347.1 331.3 L333.4 362.2 L342.3 366.3 L350.9 370.9 L376.6 345.4 L395.1 358.1 L373.6 387.0 L380.8 393.6 L387.7 400.8 L419.1 380.9 L433.1 399.2 L404.6 423.6 L409.6 432.5 L414.1 441.8 L449.4 429.5 L457.5 452.4 L423.7 470.2 L426.0 480.8 L427.6 491.7 L464.5 488.5 L465.7 514.5 L428.7 523.7 L427.9 535.3Z M362.9 546.1 L361.0 556.7 L358.4 567.4 L355.2 578.0 L351.4 588.5 L346.9 598.9 L341.9 609.0 L336.4 618.9 L330.2 628.5 L323.6 637.7 L316.6 646.5 L309.0 654.8 L301.1 662.7 L292.8 670.0 L284.2 676.7 L275.4 682.8 L266.3 688.3 L257.0 693.2 L247.6 697.3 L238.1 700.8 L228.5 703.6 L219.0 705.6 L209.5 706.9 L200.1 707.5 L190.9 707.4 L181.8 706.6 L173.0 705.0 L164.4 702.8 L156.2 699.9 L148.2 696.3 L140.7 692.2 L133.5 687.4 L126.8 682.0 L120.5 676.1 L114.7 669.7 L109.4 662.7 L104.6 655.4 L100.3 647.6 L96.6 639.5 L93.4 631.0 L90.8 622.2 L88.7 613.2 L87.2 603.9 L86.2 594.5 L85.8 584.9 L86.0 575.2 L86.8 565.4 L88.0 555.6 L89.8 545.8 L92.2 536.1 L95.0 526.4 L98.4 516.8 L102.2 507.4 L106.6 498.2 L111.3 489.2 L116.5 480.5 L122.1 472.0 L128.2 463.8 L134.5 456.0 L141.3 448.5 L148.3 441.5 L155.7 434.8 L163.3 428.6 L171.1 422.9 L179.2 417.6 L187.5 412.9 L195.9 408.7 L204.5 405.0 L213.1 401.9 L221.8 399.4 L230.6 397.5 L239.3 396.2 L248.1 395.4 L256.7 395.4 L265.3 395.9 L273.7 397.1 L281.9 398.8 L290.0 401.3 L297.8 404.3 L305.3 408.0 L312.5 412.3 L319.4 417.2 L325.9 422.6 L332.0 428.7 L337.7 435.3 L342.9 442.4 L347.6 450.0 L351.8 458.1 L355.4 466.6 L358.5 475.5 L361.0 484.8 L362.9 494.5 L364.2 504.4 L364.8 514.6 L364.8 524.9 L364.2 535.5Z" fill="url(#orangeface)" fill-rule="evenodd"/>
<g stroke="#ffe8a0" stroke-opacity="0.80" stroke-width="1.7" stroke-linecap="round"><line x1="461.2" y1="553.5" x2="455.0" y2="580.6" opacity="0.40"/><line x1="417.7" y1="579.8" x2="413.8" y2="591.4" opacity="1.00"/><line x1="413.8" y1="591.4" x2="409.1" y2="602.9" opacity="1.00"/><line x1="440.7" y1="619.5" x2="427.4" y2="645.4" opacity="0.40"/><line x1="392.8" y1="634.4" x2="385.9" y2="645.0" opacity="1.00"/><line x1="386.0" y1="645.0" x2="378.5" y2="655.4" opacity="1.00"/><line x1="408.8" y1="432.9" x2="413.3" y2="442.2" opacity="1.00"/><line x1="448.6" y1="429.8" x2="456.7" y2="452.7" opacity="0.40"/><line x1="422.8" y1="470.4" x2="425.1" y2="481.0" opacity="1.00"/><line x1="425.1" y1="481.0" x2="426.7" y2="491.9" opacity="1.00"/><line x1="463.6" y1="488.5" x2="464.8" y2="514.5" opacity="0.40"/><line x1="427.8" y1="523.7" x2="427.0" y2="535.2" opacity="1.00"/><line x1="427.0" y1="535.2" x2="425.5" y2="546.8" opacity="1.00"/></g><circle cx="406.5" cy="624" r="13" fill="url(#spec)"/></g>
<g id="blue"><polygon points="496.5,104.1 509.9,120.3 544.7,154.0 531.6,138.2" fill="#117ad0" stroke="#117ad0" stroke-width="0.6" stroke-linejoin="round"/>
<polygon points="433.5,204.7 414.8,194.3 454.1,224.1 472.2,234.4" fill="#075ca6" stroke="#075ca6" stroke-width="0.6" stroke-linejoin="round"/>
<polygon points="541.1,80.2 549.1,100.3 582.2,135.2 574.2,115.7" fill="#1179cf" stroke="#1179cf" stroke-width="0.6" stroke-linejoin="round"/>
<polygon points="418.1,245.2 396.0,240.5 436.5,268.4 458.0,273.2" fill="#075ca6" stroke="#075ca6" stroke-width="0.6" stroke-linejoin="round"/>
<polygon points="588.7,66.4 590.7,89.4 622.1,125.3 619.9,103.0" fill="#0f73c6" stroke="#0f73c6" stroke-width="0.6" stroke-linejoin="round"/>
<polygon points="412.5,287.0 388.1,288.5 429.6,314.6 453.2,313.4" fill="#075ca6" stroke="#075ca6" stroke-width="0.6" stroke-linejoin="round"/>
<polygon points="637.0,64.0 632.5,88.6 662.2,125.2 666.3,101.4" fill="#0c6cbc" stroke="#0c6cbc" stroke-width="0.6" stroke-linejoin="round"/>
<polygon points="417.5,327.6 392.1,335.8 434.3,360.0 458.5,352.4" fill="#075da6" stroke="#075da6" stroke-width="0.6" stroke-linejoin="round"/>
<polygon points="683.1,73.6 671.9,98.4 700.1,135.2 710.6,111.4" fill="#0a64b0" stroke="#0a64b0" stroke-width="0.6" stroke-linejoin="round"/>
<polygon points="433.3,364.5 408.7,379.3 450.9,401.9 474.3,387.9" fill="#085da7" stroke="#085da7" stroke-width="0.6" stroke-linejoin="round"/>
<polygon points="724.0,95.6 706.4,118.8 733.3,155.3 750.0,133.2" fill="#085ea8" stroke="#085ea8" stroke-width="0.6" stroke-linejoin="round"/>
<polygon points="459.5,394.9 437.6,415.9 479.2,437.2 499.9,417.3" fill="#085faa" stroke="#085faa" stroke-width="0.6" stroke-linejoin="round"/>
<polygon points="756.7,129.3 733.2,149.1 759.1,184.8 781.4,166.1" fill="#085ea8" stroke="#085ea8" stroke-width="0.6" stroke-linejoin="round"/>
<polygon points="733.2,149.1 737.5,156.5 763.4,191.9 759.1,184.8" fill="#0d6fc0" stroke="#0d6fc0" stroke-width="0.6" stroke-linejoin="round"/>
<polygon points="737.5,156.5 741.4,164.2 767.1,199.4 763.4,191.9" fill="#0d6fc0" stroke="#0d6fc0" stroke-width="0.6" stroke-linejoin="round"/>
<polygon points="477.7,442.6 460.2,433.1 501.0,453.8 518.0,462.9" fill="#085ea8" stroke="#085ea8" stroke-width="0.6" stroke-linejoin="round"/>
<polygon points="495.1,416.4 477.7,442.6 518.0,462.9 534.3,438.1" fill="#0a64b0" stroke="#0a64b0" stroke-width="0.6" stroke-linejoin="round"/>
<polygon points="503.4,419.5 495.1,416.4 534.3,438.1 542.3,441.1" fill="#0a64b1" stroke="#0a64b1" stroke-width="0.6" stroke-linejoin="round"/>
<polygon points="770.9,154.3 778.0,173.2 802.1,208.5 795.1,190.2" fill="#0c6bbb" stroke="#0c6bbb" stroke-width="0.6" stroke-linejoin="round"/>
<polygon points="512.0,422.0 503.4,419.5 542.3,441.1 550.6,443.6" fill="#0a65b2" stroke="#0a65b2" stroke-width="0.6" stroke-linejoin="round"/>
<polygon points="749.9,187.8 751.9,196.6 777.4,230.5 775.4,222.1" fill="#0e6fc1" stroke="#0e6fc1" stroke-width="0.6" stroke-linejoin="round"/>
<polygon points="778.0,173.2 749.9,187.8 775.4,222.1 802.1,208.5" fill="#085ea8" stroke="#085ea8" stroke-width="0.6" stroke-linejoin="round"/>
<polygon points="751.9,196.6 753.4,205.6 778.9,239.2 777.4,230.5" fill="#0e70c1" stroke="#0e70c1" stroke-width="0.6" stroke-linejoin="round"/>
<polygon points="547.3,427.1 537.8,426.6 575.3,448.1 584.4,448.8" fill="#0b68b6" stroke="#0b68b6" stroke-width="0.6" stroke-linejoin="round"/>
<polygon points="526.8,456.4 505.9,452.5 545.1,472.6 565.1,476.5" fill="#085ea8" stroke="#085ea8" stroke-width="0.6" stroke-linejoin="round"/>
<polygon points="537.8,426.6 526.8,456.4 565.1,476.5 575.3,448.1" fill="#1079ce" stroke="#1079ce" stroke-width="0.6" stroke-linejoin="round"/>
<polygon points="556.9,427.1 547.3,427.1 584.4,448.8 593.6,448.8" fill="#0b67b4" stroke="#0b67b4" stroke-width="0.6" stroke-linejoin="round"/>
<polygon points="754.6,232.3 754.0,242.0 779.7,274.0 780.3,264.8" fill="#0e70c1" stroke="#0e70c1" stroke-width="0.6" stroke-linejoin="round"/>
<polygon points="784.2,203.1 785.5,224.7 809.6,257.9 808.2,237.2" fill="#0c6bbb" stroke="#0c6bbb" stroke-width="0.6" stroke-linejoin="round"/>
<polygon points="785.5,224.7 754.6,232.3 780.3,264.8 809.6,257.9" fill="#085ea8" stroke="#085ea8" stroke-width="0.6" stroke-linejoin="round"/>
<polygon points="754.0,242.0 752.8,251.7 778.7,283.3 779.7,274.0" fill="#0e70c2" stroke="#0e70c2" stroke-width="0.6" stroke-linejoin="round"/>
<polygon points="594.7,422.0 584.8,424.1 620.2,446.2 629.6,444.2" fill="#0962ae" stroke="#0962ae" stroke-width="0.6" stroke-linejoin="round"/>
<polygon points="604.6,419.3 594.7,422.0 629.6,444.2 639.0,441.7" fill="#0961ac" stroke="#0961ac" stroke-width="0.6" stroke-linejoin="round"/>
<polygon points="746.3,279.5 743.0,289.2 769.6,319.1 772.7,309.8" fill="#0c6aba" stroke="#0c6aba" stroke-width="0.6" stroke-linejoin="round"/>
<polygon points="584.8,424.1 581.5,455.5 617.4,476.0 620.2,446.2" fill="#1588e2" stroke="#1588e2" stroke-width="0.6" stroke-linejoin="round"/>
<polygon points="581.5,455.5 558.8,457.7 595.8,478.0 617.4,476.0" fill="#085ea8" stroke="#085ea8" stroke-width="0.6" stroke-linejoin="round"/>
<polygon points="743.0,289.2 739.1,298.9 766.0,328.2 769.6,319.1" fill="#0b69b7" stroke="#0b69b7" stroke-width="0.6" stroke-linejoin="round"/>
<polygon points="777.7,279.9 746.3,279.5 772.7,309.8 802.6,310.6" fill="#085ea9" stroke="#085ea9" stroke-width="0.6" stroke-linejoin="round"/>
<polygon points="782.8,257.3 777.7,279.9 802.6,310.6 807.2,289.0" fill="#0c69b8" stroke="#0c69b8" stroke-width="0.6" stroke-linejoin="round"/>
<polygon points="641.8,403.8 632.3,408.6 665.3,431.8 674.3,427.3" fill="#075da6" stroke="#075da6" stroke-width="0.6" stroke-linejoin="round"/>
<polygon points="651.1,398.5 641.8,403.8 674.3,427.3 683.2,422.4" fill="#075ca6" stroke="#075ca6" stroke-width="0.6" stroke-linejoin="round"/>
<polygon points="725.1,325.5 719.3,334.5 747.4,362.0 753.0,353.5" fill="#0963af" stroke="#0963af" stroke-width="0.6" stroke-linejoin="round"/>
<polygon points="719.3,334.5 712.9,343.2 741.5,370.3 747.4,362.0" fill="#0961ad" stroke="#0961ad" stroke-width="0.6" stroke-linejoin="round"/>
<polygon points="684.6,373.8 676.3,380.9 706.9,405.8 714.8,399.1" fill="#075ba4" stroke="#075ba4" stroke-width="0.6" stroke-linejoin="round"/>
<polygon points="692.5,366.4 684.6,373.8 714.8,399.1 722.3,392.1" fill="#075ba5" stroke="#075ba5" stroke-width="0.6" stroke-linejoin="round"/>
<polygon points="632.3,408.6 637.4,439.0 670.5,460.8 665.3,431.8" fill="#1588e2" stroke="#1588e2" stroke-width="0.6" stroke-linejoin="round"/>
<polygon points="754.4,334.4 725.1,325.5 753.0,353.5 780.9,362.3" fill="#085fa9" stroke="#085fa9" stroke-width="0.6" stroke-linejoin="round"/>
<polygon points="637.4,439.0 614.8,447.5 649.1,468.7 670.5,460.8" fill="#085da7" stroke="#085da7" stroke-width="0.6" stroke-linejoin="round"/>
<polygon points="676.3,380.9 689.8,407.8 720.1,431.5 706.9,405.8" fill="#127cd3" stroke="#127cd3" stroke-width="0.6" stroke-linejoin="round"/>
<polygon points="717.2,383.3 692.5,366.4 722.3,392.1 745.9,408.5" fill="#085faa" stroke="#085faa" stroke-width="0.6" stroke-linejoin="round"/>
<polygon points="765.7,312.7 754.4,334.4 780.9,362.3 791.4,341.6" fill="#0a64b1" stroke="#0a64b1" stroke-width="0.6" stroke-linejoin="round"/>
<polygon points="689.8,407.8 669.3,422.1 700.7,445.0 720.1,431.5" fill="#075ca6" stroke="#075ca6" stroke-width="0.6" stroke-linejoin="round"/>
<polygon points="733.9,364.4 717.2,383.3 745.9,408.5 761.6,390.6" fill="#085faa" stroke="#085faa" stroke-width="0.6" stroke-linejoin="round"/>
<clipPath id="blueclip"><path d="M698.6 252.6 L697.0 261.5 L694.9 270.4 L692.2 279.3 L688.9 288.2 L685.2 296.8 L680.9 305.4 L676.2 313.7 L671.0 321.7 L665.3 329.5 L659.3 336.9 L652.8 343.9 L646.0 350.5 L638.9 356.7 L631.5 362.3 L623.9 367.5 L616.0 372.2 L608.1 376.3 L599.9 379.8 L591.7 382.7 L583.5 385.0 L575.3 386.8 L567.1 387.9 L559.0 388.4 L551.0 388.2 L543.2 387.5 L535.6 386.2 L528.2 384.3 L521.1 381.8 L514.3 378.8 L507.8 375.3 L501.6 371.2 L495.8 366.7 L490.5 361.7 L485.5 356.2 L480.9 350.4 L476.8 344.2 L473.2 337.6 L470.0 330.8 L467.3 323.6 L465.1 316.2 L463.4 308.6 L462.1 300.9 L461.3 292.9 L461.1 284.9 L461.2 276.8 L461.9 268.6 L463.1 260.4 L464.7 252.2 L466.7 244.1 L469.2 236.0 L472.1 228.1 L475.4 220.2 L479.1 212.6 L483.2 205.1 L487.7 197.8 L492.5 190.8 L497.7 184.0 L503.2 177.5 L508.9 171.3 L514.9 165.5 L521.2 159.9 L527.7 154.8 L534.4 150.1 L541.3 145.7 L548.4 141.8 L555.6 138.3 L562.8 135.3 L570.2 132.8 L577.6 130.7 L585.1 129.1 L592.5 128.0 L600.0 127.4 L607.3 127.3 L614.6 127.8 L621.8 128.7 L628.8 130.2 L635.7 132.2 L642.3 134.7 L648.8 137.8 L654.9 141.3 L660.8 145.4 L666.4 149.9 L671.6 154.9 L676.5 160.3 L681.0 166.2 L685.0 172.5 L688.6 179.3 L691.8 186.3 L694.5 193.8 L696.7 201.5 L698.3 209.5 L699.5 217.8 L700.1 226.3 L700.2 234.9 L699.7 243.7Z"/></clipPath>
<clipPath id="bluewc"><path d="M555.3 388.4 L551.0 388.2 L546.9 387.9 L542.7 387.5 L538.6 386.8 L534.6 386.0 L530.7 385.0 L526.8 383.9 L523.0 382.6 L519.3 381.1 L515.6 379.5 L512.1 377.7 L508.6 375.8 L505.3 373.7 L502.0 371.5 L498.9 369.2 L495.8 366.7 L492.9 364.1 L490.1 361.3 L487.4 358.5 L484.9 355.5 L482.4 352.4 L480.1 349.2 L477.9 345.9 L475.8 342.5 L473.9 339.0 L472.1 335.4 L470.4 331.7 L468.9 328.0 L467.5 324.1 L466.2 320.2 L465.1 316.2 L464.1 312.2 L463.3 308.1 L462.5 304.0 L462.0 299.8 L461.5 295.6 L461.2 291.3 L461.1 287.0 L461.1 282.7 L461.2 278.4 L461.4 274.0 L461.8 269.7 L462.3 265.3 L463.0 260.9 L463.7 256.6 L464.7 252.2 L465.7 247.9 L466.9 243.5 L468.1 239.2 L469.5 234.9 L471.1 230.7 L472.7 226.5 L474.5 222.3 L476.4 218.2 L478.4 214.1 L480.5 210.0 L482.7 206.1 L485.0 202.1 L487.4 198.3 L489.9 194.5 L492.5 190.8 L495.3 187.1 L498.1 183.5 L500.9 180.1 L503.9 176.6 L507.0 173.3 L510.1 170.1 L513.3 167.0 L516.6 164.0 L519.9 161.0 L523.4 158.2 L526.8 155.5 L530.4 152.9 L534.0 150.4 L537.6 148.0 L541.3 145.7 L545.1 143.6 L548.9 141.6 L552.7 139.7 L556.5 137.9 L560.4 136.3 L564.3 134.8 L568.2 133.4 L572.2 132.2 L576.2 131.1 L580.1 130.1 L584.1 129.3 L588.1 128.6 L592.0 128.1 L596.0 127.7 L600.0 127.4 L603.9 127.3 L607.8 127.4 L611.7 127.5 L615.6 127.9 L619.4 128.4 L623.2 129.0 L627.0 129.8 L630.7 130.7 L634.3 131.8 L637.9 133.0 L641.5 134.4 L644.9 135.9 L648.3 137.6 L651.7 139.4 L654.9 141.3 L658.1 143.4 L661.2 145.6 L664.2 148.0 L667.1 150.5 L669.9 153.2 L672.6 155.9 L675.2 158.8 L677.7 161.9 L680.1 165.0 L682.4 168.3 L684.5 171.7 L686.5 175.2 L688.4 178.8 L690.2 182.5 L691.8 186.3 L693.3 190.3 L694.6 194.3 L695.9 198.4 L696.9 202.6 L697.8 206.8 L698.6 211.2 L699.2 215.6 L699.7 220.0Z"/></clipPath>
<g clip-path="url(#bluewc)"><polygon points="600.1,271.9 600.8,472.7 588.9,472.4" fill="#3a3a44" shape-rendering="crispEdges"/><polygon points="600.1,271.9 590.3,472.5 578.4,471.5" fill="#3b3b44" shape-rendering="crispEdges"/><polygon points="600.1,271.9 579.8,471.7 568.0,470.1" fill="#3c3c45" shape-rendering="crispEdges"/><polygon points="600.1,271.9 569.4,470.3 557.7,468.2" fill="#3d3d46" shape-rendering="crispEdges"/><polygon points="600.1,271.9 559.1,468.5 547.5,465.7" fill="#3e3e47" shape-rendering="crispEdges"/><polygon points="600.1,271.9 548.8,466.0 537.4,462.7" fill="#3f3f48" shape-rendering="crispEdges"/><polygon points="600.1,271.9 538.7,463.1 527.5,459.1" fill="#404048" shape-rendering="crispEdges"/><polygon points="600.1,271.9 528.8,459.6 517.8,455.1" fill="#42424a" shape-rendering="crispEdges"/><polygon points="600.1,271.9 519.1,455.6 508.3,450.5" fill="#44444b" shape-rendering="crispEdges"/><polygon points="600.1,271.9 509.6,451.1 499.1,445.5" fill="#45454d" shape-rendering="crispEdges"/><polygon points="600.1,271.9 500.3,446.2 490.2,439.9" fill="#47474f" shape-rendering="crispEdges"/><polygon points="600.1,271.9 491.4,440.7 481.5,433.9" fill="#4a4a51" shape-rendering="crispEdges"/><polygon points="600.1,271.9 482.7,434.8 473.2,427.5" fill="#4d4d53" shape-rendering="crispEdges"/><polygon points="600.1,271.9 474.3,428.4 465.2,420.7" fill="#505056" shape-rendering="crispEdges"/><polygon points="600.1,271.9 466.3,421.6 457.6,413.4" fill="#525258" shape-rendering="crispEdges"/><polygon points="600.1,271.9 458.6,414.4 450.4,405.8" fill="#56565b" shape-rendering="crispEdges"/><polygon points="600.1,271.9 451.4,406.8 443.6,397.7" fill="#5a5a5f" shape-rendering="crispEdges"/><polygon points="600.1,271.9 444.5,398.8 437.3,389.4" fill="#5f5f62" shape-rendering="crispEdges"/><polygon points="600.1,271.9 438.1,390.5 431.3,380.7" fill="#636366" shape-rendering="crispEdges"/><polygon points="600.1,271.9 432.1,381.9 425.9,371.7" fill="#68686a" shape-rendering="crispEdges"/><polygon points="600.1,271.9 426.6,372.9 420.9,362.4" fill="#6d6d6f" shape-rendering="crispEdges"/><polygon points="600.1,271.9 421.5,363.7 416.4,352.9" fill="#747475" shape-rendering="crispEdges"/><polygon points="600.1,271.9 417.0,354.2 412.4,343.2" fill="#7c7c7c" shape-rendering="crispEdges"/><polygon points="600.1,271.9 412.9,344.5 408.9,333.3" fill="#838383" shape-rendering="crispEdges"/><polygon points="600.1,271.9 409.4,334.6 406.0,323.2" fill="#8a8a8a" shape-rendering="crispEdges"/><polygon points="600.1,271.9 406.4,324.6 403.6,313.0" fill="#919191" shape-rendering="crispEdges"/><polygon points="600.1,271.9 403.9,314.4 401.7,302.6" fill="#969696" shape-rendering="crispEdges"/><polygon points="600.1,271.9 401.9,304.0 400.4,292.2" fill="#9b9b9b" shape-rendering="crispEdges"/><polygon points="600.1,271.9 400.5,293.6 399.6,281.7" fill="#a0a0a0" shape-rendering="crispEdges"/><polygon points="600.1,271.9 399.6,283.1 399.3,271.2" fill="#a5a5a5" shape-rendering="crispEdges"/><polygon points="600.1,271.9 399.3,272.6 399.6,260.7" fill="#a8a8a8" shape-rendering="crispEdges"/><polygon points="600.1,271.9 399.6,262.1 400.5,250.2" fill="#a9a9a9" shape-rendering="crispEdges"/><polygon points="600.1,271.9 400.4,251.6 401.9,239.8" fill="#aaaaaa" shape-rendering="crispEdges"/><polygon points="600.1,271.9 401.7,241.2 403.9,229.5" fill="#ababab" shape-rendering="crispEdges"/><polygon points="600.1,271.9 403.6,230.9 406.4,219.3" fill="#acacac" shape-rendering="crispEdges"/><polygon points="600.1,271.9 406.0,220.6 409.4,209.2" fill="#ababab" shape-rendering="crispEdges"/><polygon points="600.1,271.9 408.9,210.5 412.9,199.3" fill="#aaaaaa" shape-rendering="crispEdges"/><polygon points="600.1,271.9 412.4,200.6 417.0,189.6" fill="#a9a9a9" shape-rendering="crispEdges"/><polygon points="600.1,271.9 416.4,190.9 421.5,180.1" fill="#a8a8a8" shape-rendering="crispEdges"/><polygon points="600.1,271.9 420.9,181.4 426.6,170.9" fill="#a7a7a7" shape-rendering="crispEdges"/><polygon points="600.1,271.9 425.9,172.1 432.1,162.0" fill="#a5a5a5" shape-rendering="crispEdges"/><polygon points="600.1,271.9 431.3,163.1 438.1,153.3" fill="#a2a2a2" shape-rendering="crispEdges"/><polygon points="600.1,271.9 437.3,154.5 444.5,145.0" fill="#9f9f9f" shape-rendering="crispEdges"/><polygon points="600.1,271.9 443.6,146.1 451.4,137.0" fill="#9c9c9c" shape-rendering="crispEdges"/><polygon points="600.1,271.9 450.4,138.1 458.6,129.4" fill="#999999" shape-rendering="crispEdges"/><polygon points="600.1,271.9 457.6,130.4 466.3,122.2" fill="#969696" shape-rendering="crispEdges"/><polygon points="600.1,271.9 465.2,123.2 474.3,115.4" fill="#939393" shape-rendering="crispEdges"/><polygon points="600.1,271.9 473.2,116.3 482.7,109.1" fill="#909090" shape-rendering="crispEdges"/><polygon points="600.1,271.9 481.5,109.9 491.4,103.1" fill="#8c8c8c" shape-rendering="crispEdges"/><polygon points="600.1,271.9 490.2,103.9 500.3,97.7" fill="#898989" shape-rendering="crispEdges"/><polygon points="600.1,271.9 499.1,98.4 509.6,92.7" fill="#858585" shape-rendering="crispEdges"/><polygon points="600.1,271.9 508.3,93.3 519.1,88.2" fill="#818181" shape-rendering="crispEdges"/><polygon points="600.1,271.9 517.8,88.8 528.8,84.2" fill="#7d7d7d" shape-rendering="crispEdges"/><polygon points="600.1,271.9 527.5,84.7 538.7,80.7" fill="#797979" shape-rendering="crispEdges"/><polygon points="600.1,271.9 537.4,81.2 548.8,77.8" fill="#757575" shape-rendering="crispEdges"/><polygon points="600.1,271.9 547.5,78.2 559.1,75.4" fill="#717172" shape-rendering="crispEdges"/><polygon points="600.1,271.9 557.7,75.7 569.4,73.5" fill="#6e6e70" shape-rendering="crispEdges"/><polygon points="600.1,271.9 568.0,73.7 579.8,72.2" fill="#6b6b6d" shape-rendering="crispEdges"/><polygon points="600.1,271.9 578.4,72.3 590.3,71.4" fill="#68686a" shape-rendering="crispEdges"/><polygon points="600.1,271.9 588.9,71.4 600.8,71.1" fill="#656568" shape-rendering="crispEdges"/><polygon points="600.1,271.9 599.4,71.1 611.3,71.4" fill="#626265" shape-rendering="crispEdges"/><polygon points="600.1,271.9 609.9,71.4 621.8,72.3" fill="#5f5f63" shape-rendering="crispEdges"/><polygon points="600.1,271.9 620.4,72.2 632.2,73.7" fill="#5c5c60" shape-rendering="crispEdges"/><polygon points="600.1,271.9 630.8,73.5 642.6,75.7" fill="#59595e" shape-rendering="crispEdges"/><polygon points="600.1,271.9 641.2,75.4 652.8,78.2" fill="#56565b" shape-rendering="crispEdges"/><polygon points="600.1,271.9 651.4,77.8 662.8,81.2" fill="#545459" shape-rendering="crispEdges"/><polygon points="600.1,271.9 661.5,80.7 672.7,84.7" fill="#525257" shape-rendering="crispEdges"/><polygon points="600.1,271.9 671.4,84.2 682.4,88.8" fill="#505056" shape-rendering="crispEdges"/><polygon points="600.1,271.9 681.1,88.2 691.9,93.3" fill="#4e4e54" shape-rendering="crispEdges"/><polygon points="600.1,271.9 690.7,92.7 701.1,98.4" fill="#4b4b52" shape-rendering="crispEdges"/><polygon points="600.1,271.9 699.9,97.7 710.1,103.9" fill="#4a4a51" shape-rendering="crispEdges"/><polygon points="600.1,271.9 708.9,103.1 718.7,109.9" fill="#4a4a51" shape-rendering="crispEdges"/><polygon points="600.1,271.9 717.6,109.1 727.0,116.3" fill="#494950" shape-rendering="crispEdges"/><polygon points="600.1,271.9 725.9,115.4 735.0,123.2" fill="#494950" shape-rendering="crispEdges"/><polygon points="600.1,271.9 734.0,122.2 742.6,130.4" fill="#494950" shape-rendering="crispEdges"/><polygon points="600.1,271.9 741.6,129.4 749.8,138.1" fill="#48484f" shape-rendering="crispEdges"/><polygon points="600.1,271.9 748.9,137.0 756.6,146.1" fill="#48484f" shape-rendering="crispEdges"/><polygon points="600.1,271.9 755.7,145.0 763.0,154.5" fill="#47474f" shape-rendering="crispEdges"/><polygon points="600.1,271.9 762.1,153.3 768.9,163.1" fill="#47474e" shape-rendering="crispEdges"/><polygon points="600.1,271.9 768.1,162.0 774.4,172.1" fill="#46464e" shape-rendering="crispEdges"/><polygon points="600.1,271.9 773.7,170.9 779.3,181.4" fill="#46464e" shape-rendering="crispEdges"/><polygon points="600.1,271.9 778.7,180.1 783.8,190.9" fill="#46464e" shape-rendering="crispEdges"/><polygon points="600.1,271.9 783.3,189.6 787.8,200.6" fill="#46464e" shape-rendering="crispEdges"/><polygon points="600.1,271.9 787.3,199.3 791.3,210.5" fill="#46464e" shape-rendering="crispEdges"/><polygon points="600.1,271.9 790.9,209.2 794.2,220.6" fill="#46464e" shape-rendering="crispEdges"/><polygon points="600.1,271.9 793.9,219.3 796.7,230.9" fill="#46464e" shape-rendering="crispEdges"/><polygon points="600.1,271.9 796.4,229.5 798.5,241.2" fill="#46464e" shape-rendering="crispEdges"/><polygon points="600.1,271.9 798.3,239.8 799.9,251.6" fill="#46464e" shape-rendering="crispEdges"/><polygon points="600.1,271.9 799.7,250.2 800.7,262.1" fill="#46464e" shape-rendering="crispEdges"/><polygon points="600.1,271.9 800.6,260.7 800.9,272.6" fill="#46464e" shape-rendering="crispEdges"/><polygon points="600.1,271.9 800.9,271.2 800.6,283.1" fill="#46464e" shape-rendering="crispEdges"/><polygon points="600.1,271.9 800.7,281.7 799.7,293.6" fill="#46464d" shape-rendering="crispEdges"/><polygon points="600.1,271.9 799.9,292.2 798.3,304.0" fill="#46464d" shape-rendering="crispEdges"/><polygon points="600.1,271.9 798.5,302.6 796.4,314.4" fill="#46464d" shape-rendering="crispEdges"/><polygon points="600.1,271.9 796.7,313.0 793.9,324.6" fill="#45454d" shape-rendering="crispEdges"/><polygon points="600.1,271.9 794.2,323.2 790.9,334.6" fill="#45454d" shape-rendering="crispEdges"/><polygon points="600.1,271.9 791.3,333.3 787.3,344.5" fill="#45454d" shape-rendering="crispEdges"/><polygon points="600.1,271.9 787.8,343.2 783.3,354.2" fill="#45454c" shape-rendering="crispEdges"/><polygon points="600.1,271.9 783.8,352.9 778.7,363.7" fill="#45454c" shape-rendering="crispEdges"/><polygon points="600.1,271.9 779.3,362.4 773.7,372.9" fill="#44444c" shape-rendering="crispEdges"/><polygon points="600.1,271.9 774.4,371.7 768.1,381.9" fill="#44444c" shape-rendering="crispEdges"/><polygon points="600.1,271.9 768.9,380.7 762.1,390.5" fill="#44444b" shape-rendering="crispEdges"/><polygon points="600.1,271.9 763.0,389.4 755.7,398.8" fill="#43434b" shape-rendering="crispEdges"/><polygon points="600.1,271.9 756.6,397.7 748.9,406.8" fill="#43434b" shape-rendering="crispEdges"/><polygon points="600.1,271.9 749.8,405.8 741.6,414.4" fill="#42424a" shape-rendering="crispEdges"/><polygon points="600.1,271.9 742.6,413.4 734.0,421.6" fill="#42424a" shape-rendering="crispEdges"/><polygon points="600.1,271.9 735.0,420.7 725.9,428.4" fill="#42424a" shape-rendering="crispEdges"/><polygon points="600.1,271.9 727.0,427.5 717.6,434.8" fill="#414149" shape-rendering="crispEdges"/><polygon points="600.1,271.9 718.7,433.9 708.9,440.7" fill="#414149" shape-rendering="crispEdges"/><polygon points="600.1,271.9 710.1,439.9 699.9,446.2" fill="#404049" shape-rendering="crispEdges"/><polygon points="600.1,271.9 701.1,445.5 690.7,451.1" fill="#404048" shape-rendering="crispEdges"/><polygon points="600.1,271.9 691.9,450.5 681.1,455.6" fill="#3f3f48" shape-rendering="crispEdges"/><polygon points="600.1,271.9 682.4,455.1 671.4,459.6" fill="#3f3f47" shape-rendering="crispEdges"/><polygon points="600.1,271.9 672.7,459.1 661.5,463.1" fill="#3e3e47" shape-rendering="crispEdges"/><polygon points="600.1,271.9 662.8,462.7 651.4,466.0" fill="#3d3d46" shape-rendering="crispEdges"/><polygon points="600.1,271.9 652.8,465.7 641.2,468.5" fill="#3d3d46" shape-rendering="crispEdges"/><polygon points="600.1,271.9 642.6,468.2 630.8,470.3" fill="#3c3c45" shape-rendering="crispEdges"/><polygon points="600.1,271.9 632.2,470.1 620.4,471.7" fill="#3b3b45" shape-rendering="crispEdges"/><polygon points="600.1,271.9 621.8,471.5 609.9,472.5" fill="#3b3b44" shape-rendering="crispEdges"/><polygon points="600.1,271.9 611.3,472.4 599.4,472.7" fill="#3a3a43" shape-rendering="crispEdges"/><path d="M698.6 252.6 L697.0 261.5 L694.9 270.4 L692.2 279.3 L688.9 288.2 L685.2 296.8 L680.9 305.4 L676.2 313.7 L671.0 321.7 L665.3 329.5 L659.3 336.9 L652.8 343.9 L646.0 350.5 L638.9 356.7 L631.5 362.3 L623.9 367.5 L616.0 372.2 L608.1 376.3 L599.9 379.8 L591.7 382.7 L583.5 385.0 L575.3 386.8 L567.1 387.9 L559.0 388.4 L551.0 388.2 L543.2 387.5 L535.6 386.2 L528.2 384.3 L521.1 381.8 L514.3 378.8 L507.8 375.3 L501.6 371.2 L495.8 366.7 L490.5 361.7 L485.5 356.2 L480.9 350.4 L476.8 344.2 L473.2 337.6 L470.0 330.8 L467.3 323.6 L465.1 316.2 L463.4 308.6 L462.1 300.9 L461.3 292.9 L461.1 284.9 L461.2 276.8 L461.9 268.6 L463.1 260.4 L464.7 252.2 L466.7 244.1 L469.2 236.0 L472.1 228.1 L475.4 220.2 L479.1 212.6 L483.2 205.1 L487.7 197.8 L492.5 190.8 L497.7 184.0 L503.2 177.5 L508.9 171.3 L514.9 165.5 L521.2 159.9 L527.7 154.8 L534.4 150.1 L541.3 145.7 L548.4 141.8 L555.6 138.3 L562.8 135.3 L570.2 132.8 L577.6 130.7 L585.1 129.1 L592.5 128.0 L600.0 127.4 L607.3 127.3 L614.6 127.8 L621.8 128.7 L628.8 130.2 L635.7 132.2 L642.3 134.7 L648.8 137.8 L654.9 141.3 L660.8 145.4 L666.4 149.9 L671.6 154.9 L676.5 160.3 L681.0 166.2 L685.0 172.5 L688.6 179.3 L691.8 186.3 L694.5 193.8 L696.7 201.5 L698.3 209.5 L699.5 217.8 L700.1 226.3 L700.2 234.9 L699.7 243.7Z" fill="none" stroke="#fff" stroke-opacity="0.025" stroke-width="44"/><path d="M698.6 252.6 L697.0 261.5 L694.9 270.4 L692.2 279.3 L688.9 288.2 L685.2 296.8 L680.9 305.4 L676.2 313.7 L671.0 321.7 L665.3 329.5 L659.3 336.9 L652.8 343.9 L646.0 350.5 L638.9 356.7 L631.5 362.3 L623.9 367.5 L616.0 372.2 L608.1 376.3 L599.9 379.8 L591.7 382.7 L583.5 385.0 L575.3 386.8 L567.1 387.9 L559.0 388.4 L551.0 388.2 L543.2 387.5 L535.6 386.2 L528.2 384.3 L521.1 381.8 L514.3 378.8 L507.8 375.3 L501.6 371.2 L495.8 366.7 L490.5 361.7 L485.5 356.2 L480.9 350.4 L476.8 344.2 L473.2 337.6 L470.0 330.8 L467.3 323.6 L465.1 316.2 L463.4 308.6 L462.1 300.9 L461.3 292.9 L461.1 284.9 L461.2 276.8 L461.9 268.6 L463.1 260.4 L464.7 252.2 L466.7 244.1 L469.2 236.0 L472.1 228.1 L475.4 220.2 L479.1 212.6 L483.2 205.1 L487.7 197.8 L492.5 190.8 L497.7 184.0 L503.2 177.5 L508.9 171.3 L514.9 165.5 L521.2 159.9 L527.7 154.8 L534.4 150.1 L541.3 145.7 L548.4 141.8 L555.6 138.3 L562.8 135.3 L570.2 132.8 L577.6 130.7 L585.1 129.1 L592.5 128.0 L600.0 127.4 L607.3 127.3 L614.6 127.8 L621.8 128.7 L628.8 130.2 L635.7 132.2 L642.3 134.7 L648.8 137.8 L654.9 141.3 L660.8 145.4 L666.4 149.9 L671.6 154.9 L676.5 160.3 L681.0 166.2 L685.0 172.5 L688.6 179.3 L691.8 186.3 L694.5 193.8 L696.7 201.5 L698.3 209.5 L699.5 217.8 L700.1 226.3 L700.2 234.9 L699.7 243.7Z" fill="none" stroke="#fff" stroke-opacity="0.025" stroke-width="36"/><path d="M698.6 252.6 L697.0 261.5 L694.9 270.4 L692.2 279.3 L688.9 288.2 L685.2 296.8 L680.9 305.4 L676.2 313.7 L671.0 321.7 L665.3 329.5 L659.3 336.9 L652.8 343.9 L646.0 350.5 L638.9 356.7 L631.5 362.3 L623.9 367.5 L616.0 372.2 L608.1 376.3 L599.9 379.8 L591.7 382.7 L583.5 385.0 L575.3 386.8 L567.1 387.9 L559.0 388.4 L551.0 388.2 L543.2 387.5 L535.6 386.2 L528.2 384.3 L521.1 381.8 L514.3 378.8 L507.8 375.3 L501.6 371.2 L495.8 366.7 L490.5 361.7 L485.5 356.2 L480.9 350.4 L476.8 344.2 L473.2 337.6 L470.0 330.8 L467.3 323.6 L465.1 316.2 L463.4 308.6 L462.1 300.9 L461.3 292.9 L461.1 284.9 L461.2 276.8 L461.9 268.6 L463.1 260.4 L464.7 252.2 L466.7 244.1 L469.2 236.0 L472.1 228.1 L475.4 220.2 L479.1 212.6 L483.2 205.1 L487.7 197.8 L492.5 190.8 L497.7 184.0 L503.2 177.5 L508.9 171.3 L514.9 165.5 L521.2 159.9 L527.7 154.8 L534.4 150.1 L541.3 145.7 L548.4 141.8 L555.6 138.3 L562.8 135.3 L570.2 132.8 L577.6 130.7 L585.1 129.1 L592.5 128.0 L600.0 127.4 L607.3 127.3 L614.6 127.8 L621.8 128.7 L628.8 130.2 L635.7 132.2 L642.3 134.7 L648.8 137.8 L654.9 141.3 L660.8 145.4 L666.4 149.9 L671.6 154.9 L676.5 160.3 L681.0 166.2 L685.0 172.5 L688.6 179.3 L691.8 186.3 L694.5 193.8 L696.7 201.5 L698.3 209.5 L699.5 217.8 L700.1 226.3 L700.2 234.9 L699.7 243.7Z" fill="none" stroke="#fff" stroke-opacity="0.025" stroke-width="28"/><path d="M698.6 252.6 L697.0 261.5 L694.9 270.4 L692.2 279.3 L688.9 288.2 L685.2 296.8 L680.9 305.4 L676.2 313.7 L671.0 321.7 L665.3 329.5 L659.3 336.9 L652.8 343.9 L646.0 350.5 L638.9 356.7 L631.5 362.3 L623.9 367.5 L616.0 372.2 L608.1 376.3 L599.9 379.8 L591.7 382.7 L583.5 385.0 L575.3 386.8 L567.1 387.9 L559.0 388.4 L551.0 388.2 L543.2 387.5 L535.6 386.2 L528.2 384.3 L521.1 381.8 L514.3 378.8 L507.8 375.3 L501.6 371.2 L495.8 366.7 L490.5 361.7 L485.5 356.2 L480.9 350.4 L476.8 344.2 L473.2 337.6 L470.0 330.8 L467.3 323.6 L465.1 316.2 L463.4 308.6 L462.1 300.9 L461.3 292.9 L461.1 284.9 L461.2 276.8 L461.9 268.6 L463.1 260.4 L464.7 252.2 L466.7 244.1 L469.2 236.0 L472.1 228.1 L475.4 220.2 L479.1 212.6 L483.2 205.1 L487.7 197.8 L492.5 190.8 L497.7 184.0 L503.2 177.5 L508.9 171.3 L514.9 165.5 L521.2 159.9 L527.7 154.8 L534.4 150.1 L541.3 145.7 L548.4 141.8 L555.6 138.3 L562.8 135.3 L570.2 132.8 L577.6 130.7 L585.1 129.1 L592.5 128.0 L600.0 127.4 L607.3 127.3 L614.6 127.8 L621.8 128.7 L628.8 130.2 L635.7 132.2 L642.3 134.7 L648.8 137.8 L654.9 141.3 L660.8 145.4 L666.4 149.9 L671.6 154.9 L676.5 160.3 L681.0 166.2 L685.0 172.5 L688.6 179.3 L691.8 186.3 L694.5 193.8 L696.7 201.5 L698.3 209.5 L699.5 217.8 L700.1 226.3 L700.2 234.9 L699.7 243.7Z" fill="none" stroke="#fff" stroke-opacity="0.025" stroke-width="20"/><path d="M698.6 252.6 L697.0 261.5 L694.9 270.4 L692.2 279.3 L688.9 288.2 L685.2 296.8 L680.9 305.4 L676.2 313.7 L671.0 321.7 L665.3 329.5 L659.3 336.9 L652.8 343.9 L646.0 350.5 L638.9 356.7 L631.5 362.3 L623.9 367.5 L616.0 372.2 L608.1 376.3 L599.9 379.8 L591.7 382.7 L583.5 385.0 L575.3 386.8 L567.1 387.9 L559.0 388.4 L551.0 388.2 L543.2 387.5 L535.6 386.2 L528.2 384.3 L521.1 381.8 L514.3 378.8 L507.8 375.3 L501.6 371.2 L495.8 366.7 L490.5 361.7 L485.5 356.2 L480.9 350.4 L476.8 344.2 L473.2 337.6 L470.0 330.8 L467.3 323.6 L465.1 316.2 L463.4 308.6 L462.1 300.9 L461.3 292.9 L461.1 284.9 L461.2 276.8 L461.9 268.6 L463.1 260.4 L464.7 252.2 L466.7 244.1 L469.2 236.0 L472.1 228.1 L475.4 220.2 L479.1 212.6 L483.2 205.1 L487.7 197.8 L492.5 190.8 L497.7 184.0 L503.2 177.5 L508.9 171.3 L514.9 165.5 L521.2 159.9 L527.7 154.8 L534.4 150.1 L541.3 145.7 L548.4 141.8 L555.6 138.3 L562.8 135.3 L570.2 132.8 L577.6 130.7 L585.1 129.1 L592.5 128.0 L600.0 127.4 L607.3 127.3 L614.6 127.8 L621.8 128.7 L628.8 130.2 L635.7 132.2 L642.3 134.7 L648.8 137.8 L654.9 141.3 L660.8 145.4 L666.4 149.9 L671.6 154.9 L676.5 160.3 L681.0 166.2 L685.0 172.5 L688.6 179.3 L691.8 186.3 L694.5 193.8 L696.7 201.5 L698.3 209.5 L699.5 217.8 L700.1 226.3 L700.2 234.9 L699.7 243.7Z" fill="none" stroke="#fff" stroke-opacity="0.025" stroke-width="12"/></g>
<path d="M661.2 162.3 L666.3 165.5 L671.2 169.1 L675.7 173.1 L679.9 177.6 L683.8 182.5 L687.3 187.8 L690.4 193.4 L693.2 199.3 L695.5 205.6 L697.4 212.2 L699.0 219.0 L700.1 226.0 L700.8 233.3 L701.0 240.7 L700.8 248.2 L700.2 255.8 L699.1 263.5 L697.7 271.3 L695.8 279.0 L693.5 286.7 L690.8 294.4 L687.7 302.0 L684.2 309.4 L680.4 316.6 L676.2 323.7 L671.7 330.6 L666.9 337.2 L661.9 343.5 L656.5 349.5 L650.9 355.2 L645.1 360.5 L639.1 365.5 L632.9 370.0 L626.6 374.1 L620.2 377.8 L613.7 381.1 L607.1 383.8 L600.5 386.1 L593.9 387.9 L587.4 389.2 L580.8 390.0 L574.4 390.3 L568.1 390.1 L561.9 389.4 L555.9 388.2 L550.0 386.4 L544.4 384.2 L539.0 381.5 L533.9 378.4 L529.1 374.8 L524.6 370.7 L520.3 366.2 L516.5 361.3 L513.0 356.1 L509.8 350.5 L507.1 344.5 L504.7 338.2 L502.8 331.7 L501.3 324.8 L500.2 317.8 L499.5 310.6 L499.2 303.2 L499.4 295.6 L500.1 288.0 L501.1 280.3 L502.6 272.5 L504.5 264.8 L506.8 257.1 L509.5 249.4 L512.6 241.9 L516.0 234.5 L519.8 227.2 L524.0 220.1 L528.5 213.3 L533.3 206.7 L538.4 200.3 L543.7 194.3 L549.3 188.6 L555.1 183.3 L561.1 178.4 L567.3 173.8 L573.6 169.7 L580.0 166.0 L586.5 162.8 L593.1 160.0 L599.7 157.7 L606.3 155.9 L612.9 154.6 L619.4 153.8 L625.8 153.5 L632.2 153.7 L638.3 154.5 L644.4 155.7 L650.2 157.4 L655.8 159.6Z" fill="#fff" clip-path="url(#blueclip)"/>
<path d="M752.8 251.7 L782.8 257.3 L777.7 279.9 L746.3 279.5 L743.0 289.2 L739.1 298.9 L765.7 312.7 L754.4 334.4 L725.1 325.5 L719.3 334.5 L712.9 343.2 L733.9 364.4 L717.2 383.3 L692.5 366.4 L684.6 373.8 L676.3 380.9 L689.8 407.8 L669.3 422.1 L651.1 398.5 L641.8 403.8 L632.3 408.6 L637.4 439.0 L614.8 447.5 L604.6 419.3 L594.7 422.0 L584.8 424.1 L581.5 455.5 L558.8 457.7 L556.9 427.1 L547.3 427.1 L537.8 426.6 L526.8 456.4 L505.9 452.5 L512.0 422.0 L503.4 419.5 L495.1 416.4 L477.7 442.6 L460.2 433.1 L473.2 405.0 L466.2 400.2 L459.5 394.9 L437.6 415.9 L424.4 402.1 L442.9 378.0 L437.9 371.4 L433.3 364.5 L408.7 379.3 L400.5 362.2 L422.7 343.5 L419.8 335.6 L417.5 327.6 L392.1 335.8 L389.0 316.8 L413.2 304.1 L412.7 295.5 L412.5 287.0 L388.1 288.5 L389.9 268.9 L414.6 262.4 L416.1 253.8 L418.1 245.2 L396.0 240.5 L402.4 221.3 L426.0 221.1 L429.6 212.8 L433.5 204.7 L414.8 194.3 L425.4 176.5 L446.6 182.4 L451.9 174.9 L457.5 167.6 L443.3 152.2 L457.3 136.8 L475.1 148.2 L481.8 141.8 L488.8 135.8 L479.8 116.5 L496.5 104.1 L509.9 120.3 L517.7 115.5 L525.6 111.0 L522.4 88.8 L541.1 80.2 L549.1 100.3 L557.5 97.3 L566.1 94.7 L569.1 70.7 L588.7 66.4 L590.7 89.4 L599.4 88.4 L608.1 87.9 L617.4 63.5 L637.0 64.0 L632.5 88.6 L640.9 89.8 L649.2 91.4 L664.8 68.2 L683.1 73.6 L671.9 98.4 L679.5 101.8 L686.9 105.6 L708.2 85.2 L724.0 95.6 L706.4 118.8 L712.6 124.3 L718.5 130.2 L744.6 114.3 L756.7 129.3 L733.2 149.1 L737.5 156.5 L741.4 164.2 L770.9 154.3 L778.0 173.2 L749.9 187.8 L751.9 196.6 L753.4 205.6 L784.2 203.1 L785.5 224.7 L754.6 232.3 L754.0 242.0Z M698.6 252.6 L697.0 261.5 L694.9 270.4 L692.2 279.3 L688.9 288.2 L685.2 296.8 L680.9 305.4 L676.2 313.7 L671.0 321.7 L665.3 329.5 L659.3 336.9 L652.8 343.9 L646.0 350.5 L638.9 356.7 L631.5 362.3 L623.9 367.5 L616.0 372.2 L608.1 376.3 L599.9 379.8 L591.7 382.7 L583.5 385.0 L575.3 386.8 L567.1 387.9 L559.0 388.4 L551.0 388.2 L543.2 387.5 L535.6 386.2 L528.2 384.3 L521.1 381.8 L514.3 378.8 L507.8 375.3 L501.6 371.2 L495.8 366.7 L490.5 361.7 L485.5 356.2 L480.9 350.4 L476.8 344.2 L473.2 337.6 L470.0 330.8 L467.3 323.6 L465.1 316.2 L463.4 308.6 L462.1 300.9 L461.3 292.9 L461.1 284.9 L461.2 276.8 L461.9 268.6 L463.1 260.4 L464.7 252.2 L466.7 244.1 L469.2 236.0 L472.1 228.1 L475.4 220.2 L479.1 212.6 L483.2 205.1 L487.7 197.8 L492.5 190.8 L497.7 184.0 L503.2 177.5 L508.9 171.3 L514.9 165.5 L521.2 159.9 L527.7 154.8 L534.4 150.1 L541.3 145.7 L548.4 141.8 L555.6 138.3 L562.8 135.3 L570.2 132.8 L577.6 130.7 L585.1 129.1 L592.5 128.0 L600.0 127.4 L607.3 127.3 L614.6 127.8 L621.8 128.7 L628.8 130.2 L635.7 132.2 L642.3 134.7 L648.8 137.8 L654.9 141.3 L660.8 145.4 L666.4 149.9 L671.6 154.9 L676.5 160.3 L681.0 166.2 L685.0 172.5 L688.6 179.3 L691.8 186.3 L694.5 193.8 L696.7 201.5 L698.3 209.5 L699.5 217.8 L700.1 226.3 L700.2 234.9 L699.7 243.7Z" fill="url(#blueface)" fill-rule="evenodd"/>
<g stroke="#c8e8fc" stroke-opacity="0.70" stroke-width="1.7" stroke-linecap="round"><line x1="781.9" y1="257.1" x2="776.8" y2="279.8" opacity="0.40"/><line x1="745.5" y1="279.2" x2="742.1" y2="289.0" opacity="1.00"/><line x1="742.1" y1="288.9" x2="738.3" y2="298.6" opacity="1.00"/><line x1="764.9" y1="312.3" x2="753.6" y2="334.0" opacity="0.40"/><line x1="724.4" y1="325.0" x2="718.5" y2="334.0" opacity="1.00"/><line x1="718.5" y1="334.0" x2="712.2" y2="342.7" opacity="1.00"/><line x1="736.7" y1="156.9" x2="740.6" y2="164.6" opacity="1.00"/><line x1="770.0" y1="154.6" x2="777.2" y2="173.6" opacity="0.40"/><line x1="749.0" y1="188.0" x2="751.0" y2="196.8" opacity="1.00"/><line x1="751.0" y1="196.7" x2="752.5" y2="205.8" opacity="1.00"/><line x1="783.3" y1="203.1" x2="784.6" y2="224.8" opacity="0.40"/><line x1="753.7" y1="232.3" x2="753.1" y2="241.9" opacity="1.00"/><line x1="753.1" y1="241.9" x2="751.9" y2="251.6" opacity="1.00"/></g></g>
<text x="598.8" y="287.4" letter-spacing="-3" font-family="'Liberation Sans', 'Noto Sans CJK SC', sans-serif" fill="#000" font-size="54" text-anchor="middle">信息化</text>
<text x="252.2" y="575" letter-spacing="-3" font-family="'Liberation Sans', 'Noto Sans CJK SC', sans-serif" fill="#000" font-size="54" text-anchor="middle">工业化</text>
<text transform="translate(150.5,169) rotate(-36)" x="1" y="18" letter-spacing="-2" font-family="'Liberation Sans', 'Noto Sans CJK SC', sans-serif" fill="#000" font-size="54" text-anchor="middle">深度融合</text>
</svg>
</body></html>
